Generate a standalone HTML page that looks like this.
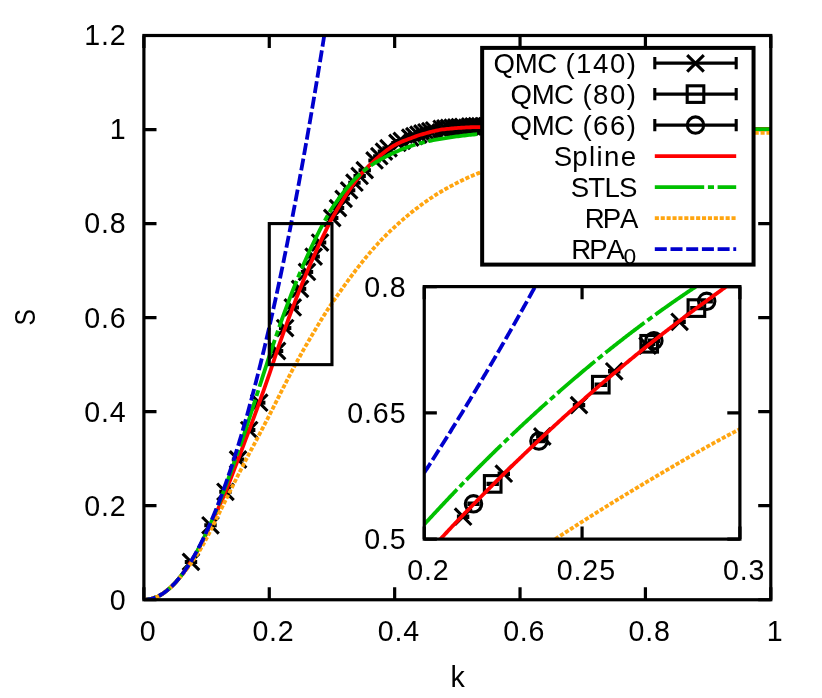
<!DOCTYPE html>
<html><head><meta charset="utf-8"><title>S(k)</title>
<style>
html,body{margin:0;padding:0;background:#fff;}
body{width:822px;height:698px;overflow:hidden;}
svg{display:block;will-change:transform;}
text{font-family:"Liberation Sans",sans-serif;fill:#000;}
.c{fill:none;stroke-width:3.8;stroke-linecap:butt;stroke-linejoin:round;}
.r{stroke:#ff0000;}
.g{stroke:#00c000;stroke-dasharray:49.4 3.7 6.1 3.6;}
.o{stroke:#ffa510;stroke-dasharray:4.1 1.8;}
.b{stroke:#0000cd;stroke-dasharray:12 3.7;}
.m{fill:none;stroke:#000;stroke-width:3.1;}
.ax{fill:none;stroke:#000;stroke-width:3.2;stroke-linecap:square;}
</style></head><body>
<svg width="822" height="698" viewBox="0 0 822 698">
<rect width="822" height="698" fill="#fff"/>
<defs>
<clipPath id="cm"><rect x="143.9" y="35.5" width="626.9" height="564.25"/></clipPath>
<clipPath id="ci"><rect x="424.25" y="286.6" width="315.65" height="252.5"/></clipPath>
</defs>

<g class="ax" style="stroke-linecap:butt">
<path d="M143.90,599.75v-12.6M143.90,35.5v12.6"/>
<path d="M269.28,599.75v-12.6M269.28,35.5v12.6"/>
<path d="M394.66,599.75v-12.6M394.66,35.5v12.6"/>
<path d="M520.04,599.75v-12.6M520.04,35.5v12.6"/>
<path d="M645.42,599.75v-12.6M645.42,35.5v12.6"/>
<path d="M770.80,599.75v-12.6M770.80,35.5v12.6"/>
<path d="M143.9,599.75h12.6M770.8,599.75h-12.6"/>
<path d="M143.9,505.71h12.6M770.8,505.71h-12.6"/>
<path d="M143.9,411.67h12.6M770.8,411.67h-12.6"/>
<path d="M143.9,317.62h12.6M770.8,317.62h-12.6"/>
<path d="M143.9,223.58h12.6M770.8,223.58h-12.6"/>
<path d="M143.9,129.54h12.6M770.8,129.54h-12.6"/>
<path d="M143.9,35.50h12.6M770.8,35.50h-12.6"/>
</g>
<g clip-path="url(#cm)">
<g class="m">
<path d="M184.78,561.90L197.18,561.90" stroke-width="4.0"/>
<path d="M182.68,553.60L199.28,570.20M182.68,570.20L199.28,553.60"/>
<path d="M204.28,525.32L216.68,525.32" stroke-width="4.0"/>
<path d="M202.18,517.02L218.78,533.62M202.18,533.62L218.78,517.02"/>
<path d="M219.25,491.82L231.65,491.82" stroke-width="4.0"/>
<path d="M217.15,483.52L233.75,500.12M217.15,500.12L233.75,483.52"/>
<path d="M231.86,459.49L244.26,459.49" stroke-width="4.0"/>
<path d="M229.76,451.19L246.36,467.79M229.76,467.79L246.36,451.19"/>
<path d="M242.97,430.04L255.37,430.04" stroke-width="4.0"/>
<path d="M240.87,421.74L257.47,438.34M240.87,438.34L257.47,421.74"/>
<path d="M253.02,402.68L265.42,402.68" stroke-width="4.0"/>
<path d="M250.92,394.38L267.52,410.98M250.92,410.98L267.52,394.38"/>
<path d="M270.86,351.02L283.26,351.02" stroke-width="4.0"/>
<path d="M268.76,342.72L285.36,359.32M268.76,359.32L285.36,342.72"/>
<path d="M278.94,328.07L291.34,328.07" stroke-width="4.0"/>
<path d="M276.84,319.77L293.44,336.37M276.84,336.37L293.44,319.77"/>
<path d="M286.58,307.46L298.98,307.46" stroke-width="4.0"/>
<path d="M284.48,299.16L301.08,315.76M284.48,315.76L301.08,299.16"/>
<path d="M293.85,288.84L306.25,288.84" stroke-width="4.0"/>
<path d="M291.75,280.54L308.35,297.14M291.75,297.14L308.35,280.54"/>
<path d="M300.79,271.95L313.19,271.95" stroke-width="4.0"/>
<path d="M298.69,263.65L315.29,280.25M298.69,280.25L315.29,263.65"/>
<path d="M307.45,256.58L319.85,256.58" stroke-width="4.0"/>
<path d="M305.35,248.28L321.95,264.88M305.35,264.88L321.95,248.28"/>
<path d="M313.86,242.55L326.26,242.55" stroke-width="4.0"/>
<path d="M311.76,234.25L328.36,250.85M311.76,250.85L328.36,234.25"/>
<path d="M326.02,218.02L338.42,218.02" stroke-width="4.0"/>
<path d="M323.92,209.72L340.52,226.32M323.92,226.32L340.52,209.72"/>
<path d="M331.82,208.10L344.22,208.10" stroke-width="4.0"/>
<path d="M329.72,199.80L346.32,216.40M329.72,216.40L346.32,199.80"/>
<path d="M337.44,198.85L349.84,198.85" stroke-width="4.0"/>
<path d="M335.34,190.55L351.94,207.15M335.34,207.15L351.94,190.55"/>
<path d="M342.92,190.36L355.32,190.36" stroke-width="4.0"/>
<path d="M340.82,182.06L357.42,198.66M340.82,198.66L357.42,182.06"/>
<path d="M348.25,182.71L360.65,182.71" stroke-width="4.0"/>
<path d="M346.15,174.41L362.75,191.01M346.15,191.01L362.75,174.41"/>
<path d="M353.45,175.95L365.85,175.95" stroke-width="4.0"/>
<path d="M351.35,167.65L367.95,184.25M351.35,184.25L367.95,167.65"/>
<path d="M358.53,170.13L370.93,170.13" stroke-width="4.0"/>
<path d="M356.43,161.83L373.03,178.43M356.43,178.43L373.03,161.83"/>
<path d="M368.34,160.43L380.74,160.43" stroke-width="4.0"/>
<path d="M366.24,152.13L382.84,168.73M366.24,168.73L382.84,152.13"/>
<path d="M373.10,156.21L385.50,156.21" stroke-width="4.0"/>
<path d="M371.00,147.91L387.60,164.51M371.00,164.51L387.60,147.91"/>
<path d="M377.76,151.62L390.16,151.62" stroke-width="4.0"/>
<path d="M375.66,143.32L392.26,159.92M375.66,159.92L392.26,143.32"/>
<path d="M382.34,148.27L394.74,148.27" stroke-width="4.0"/>
<path d="M380.24,139.97L396.84,156.57M380.24,156.57L396.84,139.97"/>
<path d="M391.23,142.88L403.63,142.88" stroke-width="4.0"/>
<path d="M389.13,134.58L405.73,151.18M389.13,151.18L405.73,134.58"/>
<path d="M395.57,140.88L407.97,140.88" stroke-width="4.0"/>
<path d="M393.47,132.58L410.07,149.18M393.47,149.18L410.07,132.58"/>
<path d="M404.03,137.64L416.43,137.64" stroke-width="4.0"/>
<path d="M401.93,129.34L418.53,145.94M401.93,145.94L418.53,129.34"/>
<path d="M408.16,136.08L420.56,136.08" stroke-width="4.0"/>
<path d="M406.06,127.78L422.66,144.38M406.06,144.38L422.66,127.78"/>
<path d="M412.22,134.63L424.62,134.63" stroke-width="4.0"/>
<path d="M410.12,126.33L426.72,142.93M410.12,142.93L426.72,126.33"/>
<path d="M416.23,133.42L428.63,133.42" stroke-width="4.0"/>
<path d="M414.13,125.12L430.73,141.72M414.13,141.72L430.73,125.12"/>
<path d="M420.18,132.31L432.58,132.31" stroke-width="4.0"/>
<path d="M418.08,124.01L434.68,140.61M418.08,140.61L434.68,124.01"/>
<path d="M424.08,131.26L436.48,131.26" stroke-width="4.0"/>
<path d="M421.98,122.96L438.58,139.56M421.98,139.56L438.58,122.96"/>
<path d="M427.92,130.31L440.32,130.31" stroke-width="4.0"/>
<path d="M425.82,122.01L442.42,138.61M425.82,138.61L442.42,122.01"/>
<path d="M435.46,128.80L447.86,128.80" stroke-width="4.0"/>
<path d="M433.36,120.50L449.96,137.10M433.36,137.10L449.96,120.50"/>
<path d="M439.16,128.32L451.56,128.32" stroke-width="4.0"/>
<path d="M437.06,120.02L453.66,136.62M437.06,136.62L453.66,120.02"/>
<path d="M442.81,127.97L455.21,127.97" stroke-width="4.0"/>
<path d="M440.71,119.67L457.31,136.27M440.71,136.27L457.31,119.67"/>
<path d="M446.43,127.64L458.83,127.64" stroke-width="4.0"/>
<path d="M444.33,119.34L460.93,135.94M444.33,135.94L460.93,119.34"/>
<path d="M449.99,127.34L462.39,127.34" stroke-width="4.0"/>
<path d="M447.89,119.04L464.49,135.64M447.89,135.64L464.49,119.04"/>
<path d="M453.52,127.06L465.92,127.06" stroke-width="4.0"/>
<path d="M451.42,118.76L468.02,135.36M451.42,135.36L468.02,118.76"/>
<path d="M457.01,126.82L469.41,126.82" stroke-width="4.0"/>
<path d="M454.91,118.52L471.51,135.12M454.91,135.12L471.51,118.52"/>
<path d="M463.88,126.46L476.28,126.46" stroke-width="4.0"/>
<path d="M461.78,118.16L478.38,134.76M461.78,134.76L478.38,118.16"/>
<path d="M467.26,126.34L479.66,126.34" stroke-width="4.0"/>
<path d="M465.16,118.04L481.76,134.64M465.16,134.64L481.76,118.04"/>
<path d="M470.61,126.27L483.01,126.27" stroke-width="4.0"/>
<path d="M468.51,117.97L485.11,134.57M468.51,134.57L485.11,117.97"/>
<path d="M473.92,126.25L486.32,126.25" stroke-width="4.0"/>
<path d="M471.82,117.95L488.42,134.55M471.82,134.55L488.42,117.95"/>
<path d="M477.20,126.25L489.60,126.25" stroke-width="4.0"/>
<path d="M475.10,117.95L491.70,134.55M475.10,134.55L491.70,117.95"/>
<path d="M480.45,126.27L492.85,126.27" stroke-width="4.0"/>
<path d="M478.35,117.97L494.95,134.57M478.35,134.57L494.95,117.97"/>
<path d="M483.67,126.29L496.07,126.29" stroke-width="4.0"/>
<path d="M481.57,117.99L498.17,134.59M481.57,134.59L498.17,117.99"/>
<path d="M490.02,126.34L502.42,126.34" stroke-width="4.0"/>
<path d="M487.92,118.04L504.52,134.64M487.92,134.64L504.52,118.04"/>
<path d="M493.15,126.38L505.55,126.38" stroke-width="4.0"/>
<path d="M491.05,118.08L507.65,134.68M491.05,134.68L507.65,118.08"/>
<path d="M496.25,126.41L508.65,126.41" stroke-width="4.0"/>
<path d="M494.15,118.11L510.75,134.71M494.15,134.71L510.75,118.11"/>
<path d="M499.33,126.46L511.73,126.46" stroke-width="4.0"/>
<path d="M497.23,118.16L513.83,134.76M497.23,134.76L513.83,118.16"/>
<path d="M505.41,126.54L517.81,126.54" stroke-width="4.0"/>
<path d="M503.31,118.24L519.91,134.84M503.31,134.84L519.91,118.24"/>
<path d="M508.41,126.59L520.81,126.59" stroke-width="4.0"/>
<path d="M506.31,118.29L522.91,134.89M506.31,134.89L522.91,118.29"/>
<path d="M514.34,126.68L526.74,126.68" stroke-width="4.0"/>
<path d="M512.24,118.38L528.84,134.98M512.24,134.98L528.84,118.38"/>
<path d="M517.27,126.73L529.67,126.73" stroke-width="4.0"/>
<path d="M515.17,118.43L531.77,135.03M515.17,135.03L531.77,118.43"/>
<path d="M520.18,126.77L532.58,126.77" stroke-width="4.0"/>
<path d="M518.08,118.47L534.68,135.07M518.08,135.07L534.68,118.47"/>
<path d="M523.07,126.81L535.47,126.81" stroke-width="4.0"/>
<path d="M520.97,118.51L537.57,135.11M520.97,135.11L537.57,118.51"/>
<path d="M525.93,126.85L538.33,126.85" stroke-width="4.0"/>
<path d="M523.83,118.55L540.43,135.15M523.83,135.15L540.43,118.55"/>
<path d="M528.78,126.90L541.18,126.90" stroke-width="4.0"/>
<path d="M526.68,118.60L543.28,135.20M526.68,135.20L543.28,118.60"/>
<path d="M531.60,126.94L544.00,126.94" stroke-width="4.0"/>
<path d="M529.50,118.64L546.10,135.24M529.50,135.24L546.10,118.64"/>
<path d="M537.19,127.04L549.59,127.04" stroke-width="4.0"/>
<path d="M535.09,118.74L551.69,135.34M535.09,135.34L551.69,118.74"/>
<path d="M539.95,127.09L552.35,127.09" stroke-width="4.0"/>
<path d="M537.85,118.79L554.45,135.39M537.85,135.39L554.45,118.79"/>
<path d="M542.70,127.15L555.10,127.15" stroke-width="4.0"/>
<path d="M540.60,118.85L557.20,135.45M540.60,135.45L557.20,118.85"/>
<path d="M545.43,127.21L557.83,127.21" stroke-width="4.0"/>
<path d="M543.33,118.91L559.93,135.51M543.33,135.51L559.93,118.91"/>
<path d="M548.14,127.27L560.54,127.27" stroke-width="4.0"/>
<path d="M546.04,118.97L562.64,135.57M546.04,135.57L562.64,118.97"/>
<path d="M550.83,127.33L563.23,127.33" stroke-width="4.0"/>
<path d="M548.73,119.03L565.33,135.63M548.73,135.63L565.33,119.03"/>
<path d="M553.50,127.39L565.90,127.39" stroke-width="4.0"/>
<path d="M551.40,119.09L568.00,135.69M551.40,135.69L568.00,119.09"/>
<path d="M558.80,127.51L571.20,127.51" stroke-width="4.0"/>
<path d="M556.70,119.21L573.30,135.81M556.70,135.81L573.30,119.21"/>
<path d="M561.42,127.57L573.82,127.57" stroke-width="4.0"/>
<path d="M559.32,119.27L575.92,135.87M559.32,135.87L575.92,119.27"/>
<path d="M564.03,127.64L576.43,127.64" stroke-width="4.0"/>
<path d="M561.93,119.34L578.53,135.94M561.93,135.94L578.53,119.34"/>
<path d="M566.62,127.69L579.02,127.69" stroke-width="4.0"/>
<path d="M564.52,119.39L581.12,135.99M564.52,135.99L581.12,119.39"/>
<path d="M569.20,127.75L581.60,127.75" stroke-width="4.0"/>
<path d="M567.10,119.45L583.70,136.05M567.10,136.05L583.70,119.45"/>
<path d="M571.76,127.81L584.16,127.81" stroke-width="4.0"/>
<path d="M569.66,119.51L586.26,136.11M569.66,136.11L586.26,119.51"/>
<path d="M574.30,127.86L586.70,127.86" stroke-width="4.0"/>
<path d="M572.20,119.56L588.80,136.16M572.20,136.16L588.80,119.56"/>
<path d="M579.35,127.96L591.75,127.96" stroke-width="4.0"/>
<path d="M577.25,119.66L593.85,136.26M577.25,136.26L593.85,119.66"/>
<path d="M581.85,128.01L594.25,128.01" stroke-width="4.0"/>
<path d="M579.75,119.71L596.35,136.31M579.75,136.31L596.35,119.71"/>
<path d="M584.34,128.05L596.74,128.05" stroke-width="4.0"/>
<path d="M582.24,119.75L598.84,136.35M582.24,136.35L598.84,119.75"/>
<path d="M586.82,128.09L599.22,128.09" stroke-width="4.0"/>
<path d="M584.72,119.79L601.32,136.39M584.72,136.39L601.32,119.79"/>
<path d="M591.72,128.16L604.12,128.16" stroke-width="4.0"/>
<path d="M589.62,119.86L606.22,136.46M589.62,136.46L606.22,119.86"/>
<path d="M594.16,128.19L606.56,128.19" stroke-width="4.0"/>
<path d="M592.06,119.89L608.66,136.49M592.06,136.49L608.66,119.89"/>
<path d="M598.99,128.24L611.39,128.24" stroke-width="4.0"/>
<path d="M596.89,119.94L613.49,136.54M596.89,136.54L613.49,119.94"/>
<path d="M601.39,128.25L613.79,128.25" stroke-width="4.0"/>
<path d="M599.29,119.95L615.89,136.55M599.29,136.55L615.89,119.95"/>
<path d="M603.77,128.26L616.17,128.26" stroke-width="4.0"/>
<path d="M601.67,119.96L618.27,136.56M601.67,136.56L618.27,119.96"/>
<path d="M606.14,128.27L618.54,128.27" stroke-width="4.0"/>
<path d="M604.04,119.97L620.64,136.57M604.04,136.57L620.64,119.97"/>
<path d="M608.50,128.27L620.90,128.27" stroke-width="4.0"/>
<path d="M606.40,119.97L623.00,136.57M606.40,136.57L623.00,119.97"/>
<path d="M610.85,128.27L623.25,128.27" stroke-width="4.0"/>
<path d="M608.75,119.97L625.35,136.57M608.75,136.57L625.35,119.97"/>
<path d="M613.19,128.27L625.59,128.27" stroke-width="4.0"/>
<path d="M611.09,119.97L627.69,136.57M611.09,136.57L627.69,119.97"/>
<path d="M617.83,128.27L630.23,128.27" stroke-width="4.0"/>
<path d="M615.73,119.97L632.33,136.57M615.73,136.57L632.33,119.97"/>
<path d="M620.13,128.27L632.53,128.27" stroke-width="4.0"/>
<path d="M618.03,119.97L634.63,136.57M618.03,136.57L634.63,119.97"/>
<path d="M622.42,128.27L634.82,128.27" stroke-width="4.0"/>
<path d="M620.32,119.97L636.92,136.57M620.32,136.57L636.92,119.97"/>
<path d="M624.70,128.26L637.10,128.26" stroke-width="4.0"/>
<path d="M622.60,119.96L639.20,136.56M622.60,136.56L639.20,119.96"/>
<path d="M626.97,128.26L639.37,128.26" stroke-width="4.0"/>
<path d="M624.87,119.96L641.47,136.56M624.87,136.56L641.47,119.96"/>
<path d="M629.23,128.26L641.63,128.26" stroke-width="4.0"/>
<path d="M627.13,119.96L643.73,136.56M627.13,136.56L643.73,119.96"/>
<path d="M631.48,128.26L643.88,128.26" stroke-width="4.0"/>
<path d="M629.38,119.96L645.98,136.56M629.38,136.56L645.98,119.96"/>
<path d="M638.17,128.25L650.57,128.25" stroke-width="4.0"/>
<path d="M636.07,119.95L652.67,136.55M636.07,136.55L652.67,119.95"/>
<path d="M640.38,128.25L652.78,128.25" stroke-width="4.0"/>
<path d="M638.28,119.95L654.88,136.55M638.28,136.55L654.88,119.95"/>
<path d="M642.58,128.24L654.98,128.24" stroke-width="4.0"/>
<path d="M640.48,119.94L657.08,136.54M640.48,136.54L657.08,119.94"/>
<path d="M644.77,128.24L657.17,128.24" stroke-width="4.0"/>
<path d="M642.67,119.94L659.27,136.54M642.67,136.54L659.27,119.94"/>
<path d="M646.95,128.24L659.35,128.24" stroke-width="4.0"/>
<path d="M644.85,119.94L661.45,136.54M644.85,136.54L661.45,119.94"/>
<path d="M649.12,128.23L661.52,128.23" stroke-width="4.0"/>
<path d="M647.02,119.93L663.62,136.53M647.02,136.53L663.62,119.93"/>
<path d="M653.44,128.23L665.84,128.23" stroke-width="4.0"/>
<path d="M651.34,119.93L667.94,136.53M651.34,136.53L667.94,119.93"/>
<path d="M655.58,128.22L667.98,128.22" stroke-width="4.0"/>
<path d="M653.48,119.92L670.08,136.52M653.48,136.52L670.08,119.92"/>
<path d="M657.72,128.22L670.12,128.22" stroke-width="4.0"/>
<path d="M655.62,119.92L672.22,136.52M655.62,136.52L672.22,119.92"/>
<path d="M659.84,128.22L672.24,128.22" stroke-width="4.0"/>
<path d="M657.74,119.92L674.34,136.52M657.74,136.52L674.34,119.92"/>
<path d="M664.07,128.21L676.47,128.21" stroke-width="4.0"/>
<path d="M661.97,119.91L678.57,136.51M661.97,136.51L678.57,119.91"/>
<path d="M666.17,128.21L678.57,128.21" stroke-width="4.0"/>
<path d="M664.07,119.91L680.67,136.51M664.07,136.51L680.67,119.91"/>
<path d="M670.35,128.20L682.75,128.20" stroke-width="4.0"/>
<path d="M668.25,119.90L684.85,136.50M668.25,136.50L684.85,119.90"/>
<path d="M672.43,128.20L684.83,128.20" stroke-width="4.0"/>
<path d="M670.33,119.90L686.93,136.50M670.33,136.50L686.93,119.90"/>
<path d="M674.50,128.20L686.90,128.20" stroke-width="4.0"/>
<path d="M672.40,119.90L689.00,136.50M672.40,136.50L689.00,119.90"/>
<path d="M676.56,128.19L688.96,128.19" stroke-width="4.0"/>
<path d="M674.46,119.89L691.06,136.49M674.46,136.49L691.06,119.89"/>
<path d="M678.61,128.19L691.01,128.19" stroke-width="4.0"/>
<path d="M676.51,119.89L693.11,136.49M676.51,136.49L693.11,119.89"/>
<path d="M680.66,128.19L693.06,128.19" stroke-width="4.0"/>
<path d="M678.56,119.89L695.16,136.49M678.56,136.49L695.16,119.89"/>
<path d="M682.69,128.19L695.09,128.19" stroke-width="4.0"/>
<path d="M680.59,119.89L697.19,136.49M680.59,136.49L697.19,119.89"/>
<path d="M686.74,128.18L699.14,128.18" stroke-width="4.0"/>
<path d="M684.64,119.88L701.24,136.48M684.64,136.48L701.24,119.88"/>
<path d="M688.76,128.18L701.16,128.18" stroke-width="4.0"/>
<path d="M686.66,119.88L703.26,136.48M686.66,136.48L703.26,119.88"/>
<path d="M690.77,128.18L703.17,128.18" stroke-width="4.0"/>
<path d="M688.67,119.88L705.27,136.48M688.67,136.48L705.27,119.88"/>
<path d="M692.77,128.18L705.17,128.18" stroke-width="4.0"/>
<path d="M690.67,119.88L707.27,136.48M690.67,136.48L707.27,119.88"/>
<path d="M694.76,128.18L707.16,128.18" stroke-width="4.0"/>
<path d="M692.66,119.88L709.26,136.48M692.66,136.48L709.26,119.88"/>
<path d="M696.75,128.18L709.15,128.18" stroke-width="4.0"/>
<path d="M694.65,119.88L711.25,136.48M694.65,136.48L711.25,119.88"/>
<path d="M698.73,128.18L711.13,128.18" stroke-width="4.0"/>
<path d="M696.63,119.88L713.23,136.48M696.63,136.48L713.23,119.88"/>
<path d="M702.66,128.18L715.06,128.18" stroke-width="4.0"/>
<path d="M700.56,119.88L717.16,136.48M700.56,136.48L717.16,119.88"/>
<path d="M704.62,128.18L717.02,128.18" stroke-width="4.0"/>
<path d="M702.52,119.88L719.12,136.48M702.52,136.48L719.12,119.88"/>
<path d="M706.57,128.18L718.97,128.18" stroke-width="4.0"/>
<path d="M704.47,119.88L721.07,136.48M704.47,136.48L721.07,119.88"/>
<path d="M708.52,128.18L720.92,128.18" stroke-width="4.0"/>
<path d="M706.42,119.88L723.02,136.48M706.42,136.48L723.02,119.88"/>
<path d="M710.46,128.18L722.86,128.18" stroke-width="4.0"/>
<path d="M708.36,119.88L724.96,136.48M708.36,136.48L724.96,119.88"/>
<path d="M712.39,128.18L724.79,128.18" stroke-width="4.0"/>
<path d="M710.29,119.88L726.89,136.48M710.29,136.48L726.89,119.88"/>
<path d="M714.31,128.18L726.71,128.18" stroke-width="4.0"/>
<path d="M712.21,119.88L728.81,136.48M712.21,136.48L728.81,119.88"/>
<path d="M718.14,128.18L730.54,128.18" stroke-width="4.0"/>
<path d="M716.04,119.88L732.64,136.48M716.04,136.48L732.64,119.88"/>
<path d="M720.05,128.18L732.45,128.18" stroke-width="4.0"/>
<path d="M717.95,119.88L734.55,136.48M717.95,136.48L734.55,119.88"/>
</g>
<path class="c r" d="M143.90,599.75 L145.47,599.69 L147.04,599.51 L148.61,599.24 L150.18,598.89 L151.76,598.48 L153.33,598.02 L154.90,597.52 L156.47,597.01 L158.04,596.41 L159.61,595.63 L161.18,594.72 L162.75,593.69 L164.33,592.55 L165.90,591.34 L167.47,590.08 L169.04,588.79 L170.61,587.42 L172.18,585.95 L173.75,584.37 L175.32,582.69 L176.89,580.91 L178.47,579.05 L180.04,577.11 L181.61,575.09 L183.18,573.01 L184.75,570.87 L186.32,568.67 L187.89,566.43 L189.46,564.14 L191.04,561.82 L192.61,559.40 L194.18,556.84 L195.75,554.15 L197.32,551.34 L198.89,548.44 L200.46,545.45 L202.03,542.40 L203.60,539.28 L205.18,536.12 L206.75,532.93 L208.32,529.73 L209.89,526.53 L211.46,523.29 L213.03,519.98 L214.60,516.61 L216.17,513.18 L217.75,509.69 L219.32,506.14 L220.89,502.55 L222.46,498.90 L224.03,495.20 L225.60,491.44 L227.17,487.60 L228.74,483.67 L230.31,479.68 L231.89,475.64 L233.46,471.55 L235.03,467.44 L236.60,463.32 L238.17,459.20 L239.74,455.07 L241.31,450.93 L242.88,446.78 L244.46,442.62 L246.03,438.45 L247.60,434.26 L249.17,430.05 L250.74,425.83 L252.31,421.59 L253.88,417.33 L255.45,413.05 L257.02,408.74 L258.60,404.42 L260.17,400.06 L261.74,395.68 L263.31,391.28 L264.88,386.84 L266.45,382.38 L268.02,377.88 L269.59,373.35 L271.17,368.69 L272.74,363.92 L274.31,359.16 L275.88,354.49 L277.45,349.90 L279.02,345.35 L280.59,340.85 L282.16,336.39 L283.73,331.98 L285.31,327.61 L286.88,323.29 L288.45,319.02 L290.02,314.78 L291.59,310.60 L293.16,306.46 L294.73,302.36 L296.30,298.31 L297.88,294.30 L299.45,290.34 L301.02,286.43 L302.59,282.55 L304.16,278.73 L305.73,274.95 L307.30,271.21 L308.87,267.52 L310.44,263.87 L312.02,260.27 L313.59,256.72 L315.16,253.21 L316.73,249.74 L318.30,246.32 L319.87,242.95 L321.44,239.62 L323.01,236.33 L324.59,233.09 L326.16,229.89 L327.73,226.67 L329.30,223.49 L330.87,220.45 L332.44,217.64 L334.01,214.92 L335.58,212.23 L337.15,209.55 L338.73,206.91 L340.30,204.30 L341.87,201.72 L343.44,199.18 L345.01,196.68 L346.58,194.22 L348.15,191.82 L349.72,189.46 L351.30,187.16 L352.87,184.91 L354.44,182.72 L356.01,180.60 L357.58,178.54 L359.15,176.56 L360.72,174.65 L362.29,172.81 L363.86,171.05 L365.44,169.38 L367.01,167.76 L368.58,166.17 L370.15,164.62 L371.72,163.09 L373.29,161.60 L374.86,160.14 L376.43,158.72 L378.01,157.33 L379.58,155.98 L381.15,154.67 L382.72,153.40 L384.29,152.17 L385.86,150.99 L387.43,149.84 L389.00,148.75 L390.57,147.69 L392.15,146.69 L393.72,145.74 L395.29,144.83 L396.86,143.98 L398.43,143.18 L400.00,142.45 L401.57,141.77 L403.14,141.12 L404.72,140.51 L406.29,139.92 L407.86,139.33 L409.43,138.75 L411.00,138.15 L412.57,137.55 L414.14,136.96 L415.71,136.37 L417.28,135.81 L418.86,135.28 L420.43,134.79 L422.00,134.34 L423.57,133.90 L425.14,133.46 L426.71,133.02 L428.28,132.59 L429.85,132.17 L431.43,131.77 L433.00,131.38 L434.57,131.00 L436.14,130.65 L437.71,130.32 L439.28,130.01 L440.85,129.73 L442.42,129.49 L443.99,129.27 L445.57,129.10 L447.14,128.94 L448.71,128.80 L450.28,128.65 L451.85,128.51 L453.42,128.37 L454.99,128.23 L456.56,128.11 L458.14,127.98 L459.71,127.86 L461.28,127.75 L462.85,127.65 L464.42,127.55 L465.99,127.46 L467.56,127.37 L469.13,127.30 L470.71,127.23 L472.28,127.18 L473.85,127.13 L475.42,127.09 L476.99,127.07 L478.56,127.05 L480.13,127.05 L481.70,127.05 L483.27,127.05 L484.85,127.06 L486.42,127.07 L487.99,127.07 L489.56,127.08 L491.13,127.10 L492.70,127.11 L494.27,127.12 L495.84,127.14 L497.42,127.15 L498.99,127.17 L500.56,127.19 L502.13,127.21 L503.70,127.23 L505.27,127.25 L506.84,127.27 L508.41,127.30 L509.98,127.32 L511.56,127.34 L513.13,127.37 L514.70,127.39 L516.27,127.42 L517.84,127.44 L519.41,127.46 L520.98,127.49 L522.55,127.51 L524.13,127.54 L525.70,127.56 L527.27,127.58 L528.84,127.61 L530.41,127.63 L531.98,127.65 L533.55,127.67 L535.12,127.70 L536.69,127.72 L538.27,127.75 L539.84,127.77 L541.41,127.80 L542.98,127.83 L544.55,127.86 L546.12,127.89 L547.69,127.93 L549.26,127.96 L550.84,127.99 L552.41,128.03 L553.98,128.06 L555.55,128.10 L557.12,128.13 L558.69,128.17 L560.26,128.20 L561.83,128.24 L563.40,128.28 L564.98,128.31 L566.55,128.35 L568.12,128.39 L569.69,128.42 L571.26,128.46 L572.83,128.49 L574.40,128.53 L575.97,128.56 L577.55,128.60 L579.12,128.63 L580.69,128.67 L582.26,128.70 L583.83,128.73 L585.40,128.76 L586.97,128.79 L588.54,128.82 L590.11,128.85 L591.69,128.87 L593.26,128.90 L594.83,128.92 L596.40,128.94 L597.97,128.96 L599.54,128.98 L601.11,129.00 L602.68,129.02 L604.26,129.03 L605.83,129.04 L607.40,129.05 L608.97,129.06 L610.54,129.07 L612.11,129.07 L613.68,129.07 L615.25,129.07 L616.82,129.07 L618.40,129.07 L619.97,129.07 L621.54,129.07 L623.11,129.07 L624.68,129.07 L626.25,129.07 L627.82,129.07 L629.39,129.06 L630.97,129.06 L632.54,129.06 L634.11,129.06 L635.68,129.06 L637.25,129.06 L638.82,129.06 L640.39,129.05 L641.96,129.05 L643.53,129.05 L645.11,129.05 L646.68,129.05 L648.25,129.04 L649.82,129.04 L651.39,129.04 L652.96,129.04 L654.53,129.03 L656.10,129.03 L657.68,129.03 L659.25,129.03 L660.82,129.02 L662.39,129.02 L663.96,129.02 L665.53,129.02 L667.10,129.02 L668.67,129.01 L670.24,129.01 L671.82,129.01 L673.39,129.01 L674.96,129.00 L676.53,129.00 L678.10,129.00 L679.67,129.00 L681.24,129.00 L682.81,128.99 L684.39,128.99 L685.96,128.99 L687.53,128.99 L689.10,128.99 L690.67,128.99 L692.24,128.98 L693.81,128.98 L695.38,128.98 L696.95,128.98 L698.53,128.98 L700.10,128.98 L701.67,128.98 L703.24,128.98 L704.81,128.98 L706.38,128.98 L707.95,128.98 L709.52,128.98 L711.10,128.98 L712.67,128.98 L714.24,128.98 L715.81,128.98 L717.38,128.98 L718.95,128.98 L720.52,128.98 L722.09,128.98 L723.66,128.98 L725.24,128.98 L726.81,128.98 L728.38,128.98 L729.95,128.98 L731.52,128.98 L733.09,128.98 L734.66,128.98 L736.23,128.98 L737.81,128.98 L739.38,128.98 L740.95,128.98 L742.52,128.98 L744.09,128.98 L745.66,128.98 L747.23,128.98 L748.80,128.98 L750.37,128.98 L751.95,128.98 L753.52,128.98 L755.09,128.98 L756.66,128.98 L758.23,128.98 L759.80,128.98 L761.37,128.98 L762.94,128.98 L764.52,128.98 L766.09,128.98 L767.66,128.98 L769.23,128.98 L770.80,128.98"/>
<path class="c g" d="M143.90,599.75 L145.47,599.69 L147.04,599.51 L148.61,599.24 L150.18,598.89 L151.76,598.48 L153.33,598.02 L154.90,597.52 L156.47,597.01 L158.04,596.41 L159.61,595.64 L161.18,594.72 L162.75,593.69 L164.33,592.56 L165.90,591.35 L167.47,590.09 L169.04,588.79 L170.61,587.42 L172.18,585.93 L173.75,584.34 L175.32,582.65 L176.89,580.86 L178.47,578.98 L180.04,577.02 L181.61,574.98 L183.18,572.87 L184.75,570.70 L186.32,568.46 L187.89,566.18 L189.46,563.85 L191.04,561.49 L192.61,559.03 L194.18,556.43 L195.75,553.71 L197.32,550.87 L198.89,547.92 L200.46,544.88 L202.03,541.75 L203.60,538.54 L205.18,535.26 L206.75,531.92 L208.32,528.53 L209.89,525.09 L211.46,521.59 L213.03,517.97 L214.60,514.26 L216.17,510.47 L217.75,506.58 L219.32,502.62 L220.89,498.59 L222.46,494.49 L224.03,490.34 L225.60,486.13 L227.17,481.88 L228.74,477.58 L230.31,473.25 L231.89,468.90 L233.46,464.52 L235.03,460.13 L236.60,455.73 L238.17,451.32 L239.74,446.85 L241.31,442.31 L242.88,437.70 L244.46,433.03 L246.03,428.31 L247.60,423.54 L249.17,418.73 L250.74,413.89 L252.31,409.02 L253.88,404.13 L255.45,399.22 L257.02,394.31 L258.60,389.39 L260.17,384.48 L261.74,379.58 L263.31,374.70 L264.88,369.84 L266.45,365.00 L268.02,360.21 L269.59,355.46 L271.17,350.71 L272.74,345.97 L274.31,341.28 L275.88,336.65 L277.45,332.10 L279.02,327.59 L280.59,323.14 L282.16,318.75 L283.73,314.42 L285.31,310.13 L286.88,305.91 L288.45,301.74 L290.02,297.62 L291.59,293.56 L293.16,289.56 L294.73,285.61 L296.30,281.72 L297.88,277.88 L299.45,274.09 L301.02,270.37 L302.59,266.70 L304.16,263.08 L305.73,259.52 L307.30,256.01 L308.87,252.56 L310.44,249.17 L312.02,245.83 L313.59,242.55 L315.16,239.32 L316.73,236.14 L318.30,233.02 L319.87,229.96 L321.44,226.96 L323.01,224.00 L324.59,221.11 L326.16,218.26 L327.73,215.40 L329.30,212.58 L330.87,209.93 L332.44,207.55 L334.01,205.28 L335.58,203.04 L337.15,200.84 L338.73,198.67 L340.30,196.54 L341.87,194.45 L343.44,192.40 L345.01,190.40 L346.58,188.45 L348.15,186.55 L349.72,184.69 L351.30,182.90 L352.87,181.16 L354.44,179.48 L356.01,177.86 L357.58,176.30 L359.15,174.81 L360.72,173.39 L362.29,172.03 L363.86,170.76 L365.44,169.54 L367.01,168.36 L368.58,167.22 L370.15,166.11 L371.72,165.03 L373.29,163.98 L374.86,162.97 L376.43,161.98 L378.01,161.03 L379.58,160.10 L381.15,159.20 L382.72,158.32 L384.29,157.47 L385.86,156.64 L387.43,155.84 L389.00,155.05 L390.57,154.29 L392.15,153.55 L393.72,152.83 L395.29,152.12 L396.86,151.44 L398.43,150.77 L400.00,150.11 L401.57,149.47 L403.14,148.84 L404.72,148.23 L406.29,147.64 L407.86,147.06 L409.43,146.51 L411.00,145.96 L412.57,145.44 L414.14,144.94 L415.71,144.45 L417.28,143.99 L418.86,143.55 L420.43,143.12 L422.00,142.72 L423.57,142.33 L425.14,141.96 L426.71,141.59 L428.28,141.24 L429.85,140.90 L431.43,140.56 L433.00,140.24 L434.57,139.93 L436.14,139.63 L437.71,139.34 L439.28,139.07 L440.85,138.80 L442.42,138.54 L443.99,138.28 L445.57,138.04 L447.14,137.81 L448.71,137.58 L450.28,137.35 L451.85,137.12 L453.42,136.90 L454.99,136.69 L456.56,136.47 L458.14,136.27 L459.71,136.06 L461.28,135.87 L462.85,135.67 L464.42,135.49 L465.99,135.31 L467.56,135.13 L469.13,134.96 L470.71,134.80 L472.28,134.65 L473.85,134.50 L475.42,134.36 L476.99,134.23 L478.56,134.10 L480.13,133.98 L481.70,133.87 L483.27,133.76 L484.85,133.65 L486.42,133.54 L487.99,133.43 L489.56,133.32 L491.13,133.21 L492.70,133.11 L494.27,133.00 L495.84,132.90 L497.42,132.80 L498.99,132.70 L500.56,132.60 L502.13,132.50 L503.70,132.41 L505.27,132.32 L506.84,132.22 L508.41,132.13 L509.98,132.05 L511.56,131.96 L513.13,131.87 L514.70,131.79 L516.27,131.71 L517.84,131.63 L519.41,131.56 L520.98,131.48 L522.55,131.41 L524.13,131.34 L525.70,131.27 L527.27,131.20 L528.84,131.14 L530.41,131.08 L531.98,131.02 L533.55,130.96 L535.12,130.90 L536.69,130.85 L538.27,130.80 L539.84,130.75 L541.41,130.71 L542.98,130.67 L544.55,130.63 L546.12,130.59 L547.69,130.55 L549.26,130.52 L550.84,130.49 L552.41,130.46 L553.98,130.44 L555.55,130.41 L557.12,130.39 L558.69,130.36 L560.26,130.34 L561.83,130.32 L563.40,130.29 L564.98,130.27 L566.55,130.25 L568.12,130.23 L569.69,130.20 L571.26,130.18 L572.83,130.16 L574.40,130.14 L575.97,130.12 L577.55,130.11 L579.12,130.09 L580.69,130.07 L582.26,130.05 L583.83,130.03 L585.40,130.02 L586.97,130.00 L588.54,129.98 L590.11,129.97 L591.69,129.95 L593.26,129.94 L594.83,129.92 L596.40,129.91 L597.97,129.89 L599.54,129.88 L601.11,129.87 L602.68,129.85 L604.26,129.84 L605.83,129.83 L607.40,129.81 L608.97,129.80 L610.54,129.79 L612.11,129.78 L613.68,129.76 L615.25,129.75 L616.82,129.74 L618.40,129.73 L619.97,129.72 L621.54,129.70 L623.11,129.69 L624.68,129.68 L626.25,129.67 L627.82,129.66 L629.39,129.65 L630.97,129.64 L632.54,129.63 L634.11,129.62 L635.68,129.61 L637.25,129.60 L638.82,129.59 L640.39,129.58 L641.96,129.56 L643.53,129.55 L645.11,129.54 L646.68,129.53 L648.25,129.52 L649.82,129.51 L651.39,129.50 L652.96,129.49 L654.53,129.48 L656.10,129.47 L657.68,129.46 L659.25,129.44 L660.82,129.43 L662.39,129.42 L663.96,129.41 L665.53,129.40 L667.10,129.39 L668.67,129.38 L670.24,129.37 L671.82,129.36 L673.39,129.35 L674.96,129.34 L676.53,129.33 L678.10,129.32 L679.67,129.31 L681.24,129.30 L682.81,129.29 L684.39,129.28 L685.96,129.27 L687.53,129.27 L689.10,129.26 L690.67,129.25 L692.24,129.24 L693.81,129.24 L695.38,129.23 L696.95,129.23 L698.53,129.22 L700.10,129.22 L701.67,129.22 L703.24,129.22 L704.81,129.21 L706.38,129.21 L707.95,129.21 L709.52,129.21 L711.10,129.21 L712.67,129.21 L714.24,129.21 L715.81,129.21 L717.38,129.21 L718.95,129.21 L720.52,129.21 L722.09,129.21 L723.66,129.21 L725.24,129.21 L726.81,129.21 L728.38,129.21 L729.95,129.21 L731.52,129.21 L733.09,129.21 L734.66,129.21 L736.23,129.21 L737.81,129.21 L739.38,129.21 L740.95,129.21 L742.52,129.21 L744.09,129.21 L745.66,129.21 L747.23,129.21 L748.80,129.21 L750.37,129.21 L751.95,129.21 L753.52,129.21 L755.09,129.21 L756.66,129.21 L758.23,129.21 L759.80,129.21 L761.37,129.21 L762.94,129.21 L764.52,129.21 L766.09,129.21 L767.66,129.21 L769.23,129.21 L770.80,129.21"/>
<path class="c o" d="M143.90,599.75 L145.47,599.69 L147.04,599.51 L148.61,599.24 L150.18,598.89 L151.76,598.48 L153.33,598.02 L154.90,597.52 L156.47,597.01 L158.04,596.40 L159.61,595.62 L161.18,594.69 L162.75,593.64 L164.33,592.50 L165.90,591.29 L167.47,590.05 L169.04,588.79 L170.61,587.46 L172.18,586.00 L173.75,584.43 L175.32,582.78 L176.89,581.08 L178.47,579.34 L180.04,577.54 L181.61,575.66 L183.18,573.71 L184.75,571.69 L186.32,569.63 L187.89,567.53 L189.46,565.41 L191.04,563.26 L192.61,561.07 L194.18,558.82 L195.75,556.52 L197.32,554.14 L198.89,551.69 L200.46,549.14 L202.03,546.49 L203.60,543.73 L205.18,540.88 L206.75,537.95 L208.32,534.94 L209.89,531.88 L211.46,528.76 L213.03,525.61 L214.60,522.42 L216.17,519.22 L217.75,516.01 L219.32,512.81 L220.89,509.62 L222.46,506.46 L224.03,503.33 L225.60,500.22 L227.17,497.08 L228.74,493.92 L230.31,490.75 L231.89,487.58 L233.46,484.41 L235.03,481.25 L236.60,478.10 L238.17,474.98 L239.74,471.89 L241.31,468.83 L242.88,465.78 L244.46,462.75 L246.03,459.73 L247.60,456.72 L249.17,453.73 L250.74,450.74 L252.31,447.76 L253.88,444.78 L255.45,441.81 L257.02,438.83 L258.60,435.85 L260.17,432.87 L261.74,429.88 L263.31,426.88 L264.88,423.87 L266.45,420.85 L268.02,417.81 L269.59,414.75 L271.17,411.67 L272.74,408.58 L274.31,405.47 L275.88,402.36 L277.45,399.24 L279.02,396.12 L280.59,393.00 L282.16,389.89 L283.73,386.79 L285.31,383.71 L286.88,380.64 L288.45,377.59 L290.02,374.57 L291.59,371.58 L293.16,368.61 L294.73,365.69 L296.30,362.79 L297.88,359.93 L299.45,357.08 L301.02,354.26 L302.59,351.46 L304.16,348.68 L305.73,345.93 L307.30,343.19 L308.87,340.49 L310.44,337.80 L312.02,335.14 L313.59,332.50 L315.16,329.87 L316.73,327.25 L318.30,324.64 L319.87,322.05 L321.44,319.48 L323.01,316.94 L324.59,314.42 L326.16,311.95 L327.73,309.51 L329.30,307.13 L330.87,304.79 L332.44,302.51 L334.01,300.25 L335.58,298.00 L337.15,295.76 L338.73,293.53 L340.30,291.32 L341.87,289.11 L343.44,286.92 L345.01,284.74 L346.58,282.58 L348.15,280.43 L349.72,278.30 L351.30,276.18 L352.87,274.08 L354.44,272.00 L356.01,269.94 L357.58,267.90 L359.15,265.88 L360.72,263.88 L362.29,261.91 L363.86,259.95 L365.44,258.02 L367.01,256.11 L368.58,254.23 L370.15,252.37 L371.72,250.54 L373.29,248.74 L374.86,246.96 L376.43,245.22 L378.01,243.50 L379.58,241.81 L381.15,240.15 L382.72,238.53 L384.29,236.93 L385.86,235.35 L387.43,233.79 L389.00,232.25 L390.57,230.74 L392.15,229.25 L393.72,227.77 L395.29,226.32 L396.86,224.88 L398.43,223.47 L400.00,222.07 L401.57,220.69 L403.14,219.34 L404.72,217.99 L406.29,216.67 L407.86,215.37 L409.43,214.08 L411.00,212.81 L412.57,211.55 L414.14,210.31 L415.71,209.09 L417.28,207.88 L418.86,206.69 L420.43,205.52 L422.00,204.35 L423.57,203.21 L425.14,202.08 L426.71,200.97 L428.28,199.87 L429.85,198.79 L431.43,197.73 L433.00,196.69 L434.57,195.66 L436.14,194.66 L437.71,193.67 L439.28,192.70 L440.85,191.75 L442.42,190.82 L443.99,189.91 L445.57,189.02 L447.14,188.15 L448.71,187.28 L450.28,186.43 L451.85,185.59 L453.42,184.75 L454.99,183.93 L456.56,183.11 L458.14,182.31 L459.71,181.52 L461.28,180.75 L462.85,179.98 L464.42,179.23 L465.99,178.49 L467.56,177.77 L469.13,177.06 L470.71,176.37 L472.28,175.69 L473.85,175.02 L475.42,174.37 L476.99,173.74 L478.56,173.12 L480.13,172.52 L481.70,171.92 L483.27,171.32 L484.85,170.73 L486.42,170.14 L487.99,169.55 L489.56,168.97 L491.13,168.39 L492.70,167.82 L494.27,167.25 L495.84,166.69 L497.42,166.13 L498.99,165.58 L500.56,165.03 L502.13,164.49 L503.70,163.95 L505.27,163.42 L506.84,162.89 L508.41,162.37 L509.98,161.86 L511.56,161.35 L513.13,160.84 L514.70,160.35 L516.27,159.86 L517.84,159.37 L519.41,158.89 L520.98,158.42 L522.55,157.95 L524.13,157.49 L525.70,157.04 L527.27,156.60 L528.84,156.16 L530.41,155.73 L531.98,155.30 L533.55,154.88 L535.12,154.47 L536.69,154.07 L538.27,153.68 L539.84,153.29 L541.41,152.91 L542.98,152.54 L544.55,152.18 L546.12,151.83 L547.69,151.48 L549.26,151.14 L550.84,150.81 L552.41,150.49 L553.98,150.17 L555.55,149.85 L557.12,149.53 L558.69,149.22 L560.26,148.90 L561.83,148.58 L563.40,148.27 L564.98,147.96 L566.55,147.65 L568.12,147.34 L569.69,147.03 L571.26,146.73 L572.83,146.43 L574.40,146.13 L575.97,145.83 L577.55,145.53 L579.12,145.24 L580.69,144.95 L582.26,144.66 L583.83,144.38 L585.40,144.09 L586.97,143.82 L588.54,143.54 L590.11,143.27 L591.69,143.00 L593.26,142.73 L594.83,142.47 L596.40,142.21 L597.97,141.96 L599.54,141.71 L601.11,141.46 L602.68,141.22 L604.26,140.98 L605.83,140.75 L607.40,140.52 L608.97,140.29 L610.54,140.07 L612.11,139.85 L613.68,139.64 L615.25,139.44 L616.82,139.24 L618.40,139.04 L619.97,138.85 L621.54,138.67 L623.11,138.49 L624.68,138.31 L626.25,138.15 L627.82,137.98 L629.39,137.83 L630.97,137.68 L632.54,137.53 L634.11,137.39 L635.68,137.26 L637.25,137.14 L638.82,137.02 L640.39,136.91 L641.96,136.80 L643.53,136.70 L645.11,136.61 L646.68,136.53 L648.25,136.44 L649.82,136.36 L651.39,136.27 L652.96,136.19 L654.53,136.11 L656.10,136.03 L657.68,135.95 L659.25,135.87 L660.82,135.80 L662.39,135.72 L663.96,135.65 L665.53,135.57 L667.10,135.50 L668.67,135.43 L670.24,135.36 L671.82,135.29 L673.39,135.22 L674.96,135.15 L676.53,135.09 L678.10,135.02 L679.67,134.96 L681.24,134.89 L682.81,134.83 L684.39,134.77 L685.96,134.71 L687.53,134.65 L689.10,134.59 L690.67,134.53 L692.24,134.47 L693.81,134.42 L695.38,134.36 L696.95,134.31 L698.53,134.26 L700.10,134.21 L701.67,134.15 L703.24,134.10 L704.81,134.06 L706.38,134.01 L707.95,133.96 L709.52,133.91 L711.10,133.87 L712.67,133.82 L714.24,133.78 L715.81,133.74 L717.38,133.70 L718.95,133.66 L720.52,133.62 L722.09,133.58 L723.66,133.54 L725.24,133.50 L726.81,133.47 L728.38,133.43 L729.95,133.40 L731.52,133.37 L733.09,133.33 L734.66,133.30 L736.23,133.27 L737.81,133.24 L739.38,133.21 L740.95,133.19 L742.52,133.16 L744.09,133.13 L745.66,133.11 L747.23,133.08 L748.80,133.06 L750.37,133.04 L751.95,133.02 L753.52,132.99 L755.09,132.97 L756.66,132.96 L758.23,132.94 L759.80,132.92 L761.37,132.91 L762.94,132.89 L764.52,132.88 L766.09,132.87 L767.66,132.85 L769.23,132.84 L770.80,132.83"/>
<path class="c b" d="M143.90,599.75 L144.37,599.75 L144.84,599.73 L145.31,599.72 L145.79,599.69 L146.26,599.65 L146.73,599.61 L147.20,599.56 L147.67,599.50 L148.14,599.44 L148.61,599.36 L149.08,599.28 L149.56,599.19 L150.03,599.10 L150.50,598.99 L150.97,598.88 L151.44,598.76 L151.91,598.64 L152.38,598.50 L152.86,598.36 L153.33,598.21 L153.80,598.05 L154.27,597.88 L154.74,597.71 L155.21,597.53 L155.68,597.34 L156.16,597.14 L156.63,596.94 L157.10,596.73 L157.57,596.51 L158.04,596.28 L158.51,596.05 L158.98,595.80 L159.45,595.55 L159.93,595.29 L160.40,595.03 L160.87,594.75 L161.34,594.47 L161.81,594.18 L162.28,593.89 L162.75,593.58 L163.23,593.27 L163.70,592.95 L164.17,592.62 L164.64,592.29 L165.11,591.94 L165.58,591.59 L166.05,591.24 L166.52,590.87 L167.00,590.50 L167.47,590.11 L167.94,589.72 L168.41,589.33 L168.88,588.92 L169.35,588.51 L169.82,588.09 L170.30,587.66 L170.77,587.23 L171.24,586.78 L171.71,586.33 L172.18,585.87 L172.65,585.41 L173.12,584.93 L173.60,584.45 L174.07,583.96 L174.54,583.47 L175.01,582.96 L175.48,582.45 L175.95,581.93 L176.42,581.40 L176.89,580.86 L177.37,580.32 L177.84,579.77 L178.31,579.21 L178.78,578.64 L179.25,578.07 L179.72,577.49 L180.19,576.90 L180.67,576.30 L181.14,575.69 L181.61,575.08 L182.08,574.46 L182.55,573.83 L183.02,573.20 L183.49,572.55 L183.97,571.90 L184.44,571.24 L184.91,570.58 L185.38,569.90 L185.85,569.22 L186.32,568.53 L186.79,567.83 L187.26,567.13 L187.74,566.41 L188.21,565.69 L188.68,564.96 L189.15,564.23 L189.62,563.48 L190.09,562.73 L190.56,561.97 L191.04,561.21 L191.51,560.43 L191.98,559.65 L192.45,558.86 L192.92,558.06 L193.39,557.26 L193.86,556.44 L194.33,555.62 L194.81,554.79 L195.28,553.96 L195.75,553.11 L196.22,552.26 L196.69,551.40 L197.16,550.53 L197.63,549.66 L198.11,548.78 L198.58,547.89 L199.05,546.99 L199.52,546.08 L199.99,545.17 L200.46,544.25 L200.93,543.32 L201.41,542.38 L201.88,541.44 L202.35,540.48 L202.82,539.53 L203.29,538.56 L203.76,537.58 L204.23,536.60 L204.70,535.61 L205.18,534.61 L205.65,533.60 L206.12,532.59 L206.59,531.57 L207.06,530.54 L207.53,529.50 L208.00,528.46 L208.48,527.41 L208.95,526.35 L209.42,525.28 L209.89,524.20 L210.36,523.12 L210.83,522.03 L211.30,520.93 L211.77,519.83 L212.25,518.71 L212.72,517.59 L213.19,516.46 L213.66,515.32 L214.13,514.18 L214.60,513.03 L215.07,511.87 L215.55,510.70 L216.02,509.52 L216.49,508.34 L216.96,507.15 L217.43,505.95 L217.90,504.74 L218.37,503.53 L218.85,502.31 L219.32,501.08 L219.79,499.84 L220.26,498.60 L220.73,497.34 L221.20,496.08 L221.67,494.81 L222.14,493.54 L222.62,492.26 L223.09,490.96 L223.56,489.66 L224.03,488.36 L224.50,487.04 L224.97,485.72 L225.44,484.39 L225.92,483.05 L226.39,481.71 L226.86,480.36 L227.33,479.00 L227.80,477.63 L228.27,476.25 L228.74,474.87 L229.21,473.48 L229.69,472.08 L230.16,470.67 L230.63,469.26 L231.10,467.83 L231.57,466.40 L232.04,464.97 L232.51,463.52 L232.99,462.07 L233.46,460.61 L233.93,459.14 L234.40,457.66 L234.87,456.18 L235.34,454.69 L235.81,453.19 L236.29,451.68 L236.76,450.17 L237.23,448.64 L237.70,447.11 L238.17,445.57 L238.64,444.03 L239.11,442.48 L239.58,440.91 L240.06,439.35 L240.53,437.77 L241.00,436.19 L241.47,434.59 L241.94,432.99 L242.41,431.39 L242.88,429.77 L243.36,428.15 L243.83,426.52 L244.30,424.88 L244.77,423.23 L245.24,421.58 L245.71,419.92 L246.18,418.25 L246.66,416.57 L247.13,414.89 L247.60,413.20 L248.07,411.50 L248.54,409.79 L249.01,408.08 L249.48,406.35 L249.95,404.62 L250.43,402.88 L250.90,401.14 L251.37,399.38 L251.84,397.62 L252.31,395.85 L252.78,394.08 L253.25,392.29 L253.73,390.50 L254.20,388.70 L254.67,386.89 L255.14,385.08 L255.61,383.25 L256.08,381.42 L256.55,379.58 L257.02,377.74 L257.50,375.88 L257.97,374.02 L258.44,372.15 L258.91,370.28 L259.38,368.39 L259.85,366.50 L260.32,364.60 L260.80,362.69 L261.27,360.77 L261.74,358.85 L262.21,356.92 L262.68,354.98 L263.15,353.03 L263.62,351.08 L264.10,349.12 L264.57,347.15 L265.04,345.17 L265.51,343.19 L265.98,341.19 L266.45,339.19 L266.92,337.19 L267.39,335.17 L267.87,333.15 L268.34,331.11 L268.81,329.08 L269.28,327.03 L269.75,324.97 L270.22,322.91 L270.69,320.84 L271.17,318.77 L271.64,316.68 L272.11,314.59 L272.58,312.49 L273.05,310.38 L273.52,308.26 L273.99,306.14 L274.46,304.01 L274.94,301.87 L275.41,299.72 L275.88,297.57 L276.35,295.40 L276.82,293.23 L277.29,291.06 L277.76,288.87 L278.24,286.68 L278.71,284.48 L279.18,282.27 L279.65,280.05 L280.12,277.83 L280.59,275.60 L281.06,273.36 L281.54,271.11 L282.01,268.85 L282.48,266.59 L282.95,264.32 L283.42,262.04 L283.89,259.76 L284.36,257.47 L284.83,255.16 L285.31,252.86 L285.78,250.54 L286.25,248.21 L286.72,245.88 L287.19,243.54 L287.66,241.20 L288.13,238.84 L288.61,236.48 L289.08,234.11 L289.55,231.73 L290.02,229.34 L290.49,226.95 L290.96,224.55 L291.43,222.14 L291.90,219.72 L292.38,217.30 L292.85,214.87 L293.32,212.43 L293.79,209.98 L294.26,207.52 L294.73,205.06 L295.20,202.59 L295.68,200.11 L296.15,197.63 L296.62,195.13 L297.09,192.63 L297.56,190.12 L298.03,187.60 L298.50,185.08 L298.98,182.55 L299.45,180.01 L299.92,177.46 L300.39,174.90 L300.86,172.34 L301.33,169.77 L301.80,167.19 L302.27,164.61 L302.75,162.01 L303.22,159.41 L303.69,156.80 L304.16,154.18 L304.63,151.56 L305.10,148.93 L305.57,146.29 L306.05,143.64 L306.52,140.98 L306.99,138.32 L307.46,135.65 L307.93,132.97 L308.40,130.28 L308.87,127.59 L309.35,124.89 L309.82,122.18 L310.29,119.46 L310.76,116.73 L311.23,114.00 L311.70,111.26 L312.17,108.51 L312.64,105.76 L313.12,102.99 L313.59,100.22 L314.06,97.44 L314.53,94.66 L315.00,91.86 L315.47,89.06 L315.94,86.25 L316.42,83.43 L316.89,80.61 L317.36,77.77 L317.83,74.93 L318.30,72.08 L318.77,69.23 L319.24,66.36 L319.71,63.49 L320.19,60.61 L320.66,57.73 L321.13,54.83 L321.60,51.93 L322.07,49.02 L322.54,46.10 L323.01,43.18 L323.49,40.24 L323.96,37.30 L324.43,34.35 L324.90,31.40 L325.37,28.43 L325.84,25.46 L326.31,22.48 L326.79,19.50 L327.26,16.50 L327.73,13.50 L328.20,10.49 L328.67,7.47 L329.14,4.44 L329.61,1.41 L330.08,-1.63 L330.56,-4.68 L331.03,-7.74 L331.50,-10.80 L331.97,-13.87"/>
</g>
<rect class="ax" x="143.9" y="35.5" width="626.9" height="564.25"/>
<rect x="269.28" y="223.58" width="62.69" height="141.06" fill="none" stroke="#000" stroke-width="3.1"/>
<text x="139.75" y="640.70" font-size="28.60">0</text>
<text x="252.40 269.11 277.85" y="640.70" font-size="28.60">0.2</text>
<text x="377.78 394.49 403.23" y="640.70" font-size="28.60">0.4</text>
<text x="503.16 519.87 528.61" y="640.70" font-size="28.60">0.6</text>
<text x="628.54 645.25 653.99" y="640.70" font-size="28.60">0.8</text>
<text x="766.65" y="640.70" font-size="28.60">1</text>
<text x="109.66" y="609.65" font-size="28.60">0</text>
<text x="84.22 100.92 109.66" y="515.61" font-size="28.60">0.2</text>
<text x="84.22 100.92 109.66" y="421.57" font-size="28.60">0.4</text>
<text x="84.22 100.92 109.66" y="327.52" font-size="28.60">0.6</text>
<text x="84.22 100.92 109.66" y="233.48" font-size="28.60">0.8</text>
<text x="109.66" y="139.44" font-size="28.60">1</text>
<text x="84.22 100.92 109.66" y="45.40" font-size="28.60">1.2</text>
<text x="450.45" y="687.00" font-size="28.60">k</text>
<g transform="translate(35.0,317.4) rotate(-90)"><text x="-8.20" y="0" font-size="28.6" textLength="16.41" lengthAdjust="spacingAndGlyphs">S</text></g>
<rect x="482.15" y="47.9" width="271.4" height="216.70000000000002" fill="#fff" stroke="#000" stroke-width="4.0"/>
<text x="493.54 514.78 537.13 556.81 565.49 576.10 593.07 610.03 626.80" y="73.00" font-size="27.60">QMC (140)</text>
<text x="510.51 531.75 554.10 573.78 582.46 593.07 610.03 626.80" y="104.00" font-size="27.60">QMC (80)</text>
<text x="510.51 531.75 554.10 573.78 582.46 593.07 610.03 626.80" y="135.00" font-size="27.60">QMC (66)</text>
<text x="553.87 572.33 589.11 596.52 604.06 620.72" y="166.00" font-size="27.60">Spline</text>
<text x="570.85 588.24 604.57 618.93" y="197.00" font-size="27.60">STLS</text>
<text x="584.75 602.82 619.98" y="228.00" font-size="27.60">RPA</text>
<text x="571.17 589.24 606.40" y="259.00" font-size="27.60">RPA</text>
<text x="623.45" y="264.20" font-size="22.88">0</text>
<g class="m">
<path d="M654.8,63.1H736.2M654.8,56.9v12.4M736.2,56.9v12.4"/>
<path d="M654.8,94.1H736.2M654.8,87.89999999999999v12.4M736.2,87.89999999999999v12.4"/>
<path d="M654.8,125.1H736.2M654.8,118.89999999999999v12.4M736.2,118.89999999999999v12.4"/>
<path d="M687.20,55.10L703.80,71.70M687.20,71.70L703.80,55.10"/>
<rect x="687.20" y="85.80" width="16.60" height="16.60"/>
<circle cx="695.50" cy="125.10" r="8.2"/>
</g>
<path class="c r" d="M654.8,156.1H736.2"/>
<path class="c g" d="M654.8,187.1H736.2"/>
<path class="c o" d="M654.8,218.1H736.2"/>
<path class="c b" d="M654.8,249.1H736.2"/>
<rect x="424.25" y="286.6" width="315.65" height="252.5" fill="#fff"/>
<g class="ax" style="stroke-linecap:butt">
<path d="M424.25,539.1v-12.6M424.25,286.6v12.6"/>
<path d="M582.07,539.1v-12.6M582.07,286.6v12.6"/>
<path d="M739.90,539.1v-12.6M739.90,286.6v12.6"/>
<path d="M424.25,539.10h12.6M739.9,539.10h-12.6"/>
<path d="M424.25,412.85h12.6M739.9,412.85h-12.6"/>
<path d="M424.25,286.60h12.6M739.9,286.60h-12.6"/>
</g>
<g clip-path="url(#ci)">
<g class="m">
<path d="M456.90,516.70L469.30,516.70" stroke-width="4.4"/>
<path d="M454.80,508.40L471.40,525.00M454.80,525.00L471.40,508.40"/>
<path d="M497.60,473.70L510.00,473.70" stroke-width="4.4"/>
<path d="M495.50,465.40L512.10,482.00M495.50,482.00L512.10,465.40"/>
<path d="M536.10,436.50L548.50,436.50" stroke-width="4.4"/>
<path d="M534.00,428.20L550.60,444.80M534.00,444.80L550.60,428.20"/>
<path d="M572.80,405.10L585.20,405.10" stroke-width="4.4"/>
<path d="M570.70,396.80L587.30,413.40M570.70,413.40L587.30,396.80"/>
<path d="M608.00,371.30L620.40,371.30" stroke-width="4.4"/>
<path d="M605.90,363.00L622.50,379.60M605.90,379.60L622.50,363.00"/>
<path d="M641.40,345.70L653.80,345.70" stroke-width="4.4"/>
<path d="M639.30,337.40L655.90,354.00M639.30,354.00L655.90,337.40"/>
<path d="M673.40,321.80L685.80,321.80" stroke-width="4.4"/>
<path d="M671.30,313.50L687.90,330.10M671.30,330.10L687.90,313.50"/>
<path d="M486.50,483.90L498.90,483.90" stroke-width="4.4"/>
<rect x="484.40" y="475.60" width="16.60" height="16.60"/>
<path d="M594.60,384.70L607.00,384.70" stroke-width="4.4"/>
<rect x="592.50" y="376.40" width="16.60" height="16.60"/>
<path d="M643.00,343.80L655.40,343.80" stroke-width="4.4"/>
<rect x="640.90" y="335.50" width="16.60" height="16.60"/>
<path d="M690.20,308.10L702.60,308.10" stroke-width="4.4"/>
<rect x="688.10" y="299.80" width="16.60" height="16.60"/>
<path d="M467.30,503.80L479.70,503.80" stroke-width="4.4"/>
<circle cx="473.50" cy="503.80" r="8.2"/>
<path d="M532.70,441.10L545.10,441.10" stroke-width="4.4"/>
<circle cx="538.90" cy="441.10" r="8.2"/>
<path d="M647.70,340.70L660.10,340.70" stroke-width="4.4"/>
<circle cx="653.90" cy="340.70" r="8.2"/>
<path d="M700.50,301.30L712.90,301.30" stroke-width="4.4"/>
<circle cx="706.70" cy="301.30" r="8.2"/>
</g>
<path class="c r" d="M424.25,556.32 L425.12,555.42 L425.99,554.52 L426.86,553.62 L427.73,552.71 L428.60,551.79 L429.47,550.88 L430.34,549.96 L431.21,549.04 L432.08,548.11 L432.95,547.18 L433.82,546.25 L434.69,545.32 L435.56,544.38 L436.43,543.45 L437.30,542.51 L438.17,541.57 L439.04,540.63 L439.91,539.69 L440.78,538.75 L441.65,537.81 L442.52,536.86 L443.39,535.92 L444.26,534.98 L445.14,534.04 L446.01,533.10 L446.88,532.16 L447.75,531.23 L448.62,530.29 L449.49,529.36 L450.36,528.43 L451.23,527.50 L452.10,526.57 L452.97,525.65 L453.84,524.73 L454.71,523.81 L455.58,522.90 L456.45,521.99 L457.32,521.08 L458.19,520.17 L459.06,519.27 L459.93,518.36 L460.80,517.46 L461.67,516.55 L462.54,515.65 L463.41,514.75 L464.28,513.84 L465.15,512.94 L466.02,512.04 L466.89,511.15 L467.76,510.25 L468.63,509.35 L469.50,508.46 L470.37,507.56 L471.24,506.67 L472.11,505.77 L472.98,504.88 L473.85,503.99 L474.72,503.10 L475.59,502.21 L476.46,501.33 L477.33,500.44 L478.20,499.55 L479.07,498.67 L479.94,497.78 L480.81,496.90 L481.68,496.02 L482.55,495.14 L483.42,494.26 L484.29,493.38 L485.16,492.50 L486.04,491.63 L486.91,490.75 L487.78,489.87 L488.65,489.00 L489.52,488.13 L490.39,487.26 L491.26,486.39 L492.13,485.52 L493.00,484.65 L493.87,483.78 L494.74,482.91 L495.61,482.04 L496.48,481.18 L497.35,480.31 L498.22,479.45 L499.09,478.59 L499.96,477.73 L500.83,476.87 L501.70,476.01 L502.57,475.15 L503.44,474.29 L504.31,473.43 L505.18,472.58 L506.05,471.72 L506.92,470.87 L507.79,470.02 L508.66,469.17 L509.53,468.31 L510.40,467.46 L511.27,466.62 L512.14,465.77 L513.01,464.92 L513.88,464.08 L514.75,463.23 L515.62,462.39 L516.49,461.54 L517.36,460.70 L518.23,459.86 L519.10,459.02 L519.97,458.18 L520.84,457.35 L521.71,456.51 L522.58,455.67 L523.45,454.84 L524.32,454.00 L525.19,453.17 L526.06,452.34 L526.94,451.51 L527.81,450.68 L528.68,449.85 L529.55,449.02 L530.42,448.19 L531.29,447.37 L532.16,446.54 L533.03,445.72 L533.90,444.89 L534.77,444.07 L535.64,443.25 L536.51,442.43 L537.38,441.61 L538.25,440.79 L539.12,439.97 L539.99,439.16 L540.86,438.34 L541.73,437.53 L542.60,436.71 L543.47,435.90 L544.34,435.09 L545.21,434.28 L546.08,433.47 L546.95,432.66 L547.82,431.85 L548.69,431.04 L549.56,430.24 L550.43,429.43 L551.30,428.63 L552.17,427.83 L553.04,427.03 L553.91,426.23 L554.78,425.43 L555.65,424.63 L556.52,423.83 L557.39,423.03 L558.26,422.24 L559.13,421.44 L560.00,420.65 L560.87,419.85 L561.74,419.06 L562.61,418.27 L563.48,417.48 L564.35,416.69 L565.22,415.90 L566.09,415.11 L566.96,414.33 L567.84,413.54 L568.71,412.76 L569.58,411.97 L570.45,411.19 L571.32,410.41 L572.19,409.63 L573.06,408.85 L573.93,408.07 L574.80,407.29 L575.67,406.52 L576.54,405.74 L577.41,404.97 L578.28,404.19 L579.15,403.42 L580.02,402.65 L580.89,401.88 L581.76,401.11 L582.63,400.34 L583.50,399.57 L584.37,398.81 L585.24,398.04 L586.11,397.28 L586.98,396.51 L587.85,395.75 L588.72,394.99 L589.59,394.23 L590.46,393.47 L591.33,392.71 L592.20,391.95 L593.07,391.19 L593.94,390.44 L594.81,389.68 L595.68,388.93 L596.55,388.18 L597.42,387.42 L598.29,386.67 L599.16,385.92 L600.03,385.17 L600.90,384.42 L601.77,383.68 L602.64,382.93 L603.51,382.18 L604.38,381.44 L605.25,380.70 L606.12,379.95 L606.99,379.21 L607.86,378.47 L608.74,377.73 L609.61,376.99 L610.48,376.26 L611.35,375.52 L612.22,374.79 L613.09,374.05 L613.96,373.32 L614.83,372.59 L615.70,371.85 L616.57,371.12 L617.44,370.39 L618.31,369.67 L619.18,368.94 L620.05,368.21 L620.92,367.49 L621.79,366.76 L622.66,366.04 L623.53,365.31 L624.40,364.59 L625.27,363.87 L626.14,363.15 L627.01,362.43 L627.88,361.71 L628.75,361.00 L629.62,360.28 L630.49,359.56 L631.36,358.85 L632.23,358.14 L633.10,357.42 L633.97,356.71 L634.84,356.00 L635.71,355.29 L636.58,354.58 L637.45,353.88 L638.32,353.17 L639.19,352.47 L640.06,351.76 L640.93,351.06 L641.80,350.36 L642.67,349.65 L643.54,348.95 L644.41,348.26 L645.28,347.56 L646.15,346.86 L647.02,346.16 L647.89,345.47 L648.76,344.77 L649.64,344.08 L650.51,343.39 L651.38,342.70 L652.25,342.01 L653.12,341.32 L653.99,340.63 L654.86,339.94 L655.73,339.25 L656.60,338.57 L657.47,337.88 L658.34,337.20 L659.21,336.51 L660.08,335.83 L660.95,335.15 L661.82,334.47 L662.69,333.79 L663.56,333.11 L664.43,332.44 L665.30,331.76 L666.17,331.08 L667.04,330.41 L667.91,329.74 L668.78,329.07 L669.65,328.39 L670.52,327.72 L671.39,327.05 L672.26,326.39 L673.13,325.72 L674.00,325.05 L674.87,324.39 L675.74,323.72 L676.61,323.06 L677.48,322.40 L678.35,321.74 L679.22,321.08 L680.09,320.42 L680.96,319.76 L681.83,319.10 L682.70,318.45 L683.57,317.79 L684.44,317.14 L685.31,316.48 L686.18,315.83 L687.05,315.18 L687.92,314.53 L688.79,313.88 L689.66,313.23 L690.54,312.58 L691.41,311.93 L692.28,311.29 L693.15,310.64 L694.02,310.00 L694.89,309.35 L695.76,308.71 L696.63,308.07 L697.50,307.43 L698.37,306.79 L699.24,306.15 L700.11,305.52 L700.98,304.88 L701.85,304.25 L702.72,303.61 L703.59,302.98 L704.46,302.35 L705.33,301.72 L706.20,301.09 L707.07,300.46 L707.94,299.83 L708.81,299.20 L709.68,298.57 L710.55,297.94 L711.42,297.31 L712.29,296.68 L713.16,296.04 L714.03,295.41 L714.90,294.77 L715.77,294.14 L716.64,293.50 L717.51,292.87 L718.38,292.23 L719.25,291.60 L720.12,290.97 L720.99,290.34 L721.86,289.71 L722.73,289.08 L723.60,288.45 L724.47,287.83 L725.34,287.21 L726.21,286.59 L727.08,285.98 L727.95,285.37 L728.82,284.76 L729.69,284.15 L730.56,283.55 L731.44,282.96 L732.31,282.36 L733.18,281.78 L734.05,281.20 L734.92,280.62 L735.79,280.05 L736.66,279.48 L737.53,278.92 L738.40,278.37 L739.27,277.82 L740.14,277.28 L741.01,276.75 L741.88,276.21 L742.75,275.67 L743.62,275.13 L744.49,274.60 L745.36,274.06 L746.23,273.53 L747.10,272.99 L747.97,272.46 L748.84,271.92 L749.71,271.39 L750.58,270.86 L751.45,270.32 L752.32,269.79 L753.19,269.26 L754.06,268.73 L754.93,268.20 L755.80,267.67 L756.67,267.14 L757.54,266.61 L758.41,266.08 L759.28,265.55 L760.15,265.02 L761.02,264.50 L761.89,263.97 L762.76,263.44 L763.63,262.92 L764.50,262.39 L765.37,261.87 L766.24,261.35 L767.11,260.82 L767.98,260.30 L768.85,259.78 L769.72,259.26 L770.59,258.74 L771.46,258.22"/>
<path class="c g" style="stroke-dashoffset:1.5" d="M424.25,524.35 L425.12,523.41 L425.99,522.48 L426.86,521.55 L427.73,520.61 L428.60,519.68 L429.47,518.74 L430.34,517.81 L431.21,516.87 L432.08,515.94 L432.95,515.00 L433.82,514.07 L434.69,513.13 L435.56,512.20 L436.43,511.26 L437.30,510.33 L438.17,509.40 L439.04,508.46 L439.91,507.53 L440.78,506.60 L441.65,505.67 L442.52,504.74 L443.39,503.82 L444.26,502.89 L445.14,501.96 L446.01,501.04 L446.88,500.11 L447.75,499.19 L448.62,498.27 L449.49,497.35 L450.36,496.43 L451.23,495.52 L452.10,494.61 L452.97,493.69 L453.84,492.78 L454.71,491.87 L455.58,490.97 L456.45,490.06 L457.32,489.16 L458.19,488.26 L459.06,487.36 L459.93,486.46 L460.80,485.56 L461.67,484.66 L462.54,483.76 L463.41,482.87 L464.28,481.97 L465.15,481.08 L466.02,480.19 L466.89,479.30 L467.76,478.41 L468.63,477.52 L469.50,476.63 L470.37,475.75 L471.24,474.86 L472.11,473.98 L472.98,473.10 L473.85,472.21 L474.72,471.33 L475.59,470.45 L476.46,469.58 L477.33,468.70 L478.20,467.83 L479.07,466.95 L479.94,466.08 L480.81,465.21 L481.68,464.34 L482.55,463.47 L483.42,462.60 L484.29,461.73 L485.16,460.87 L486.04,460.01 L486.91,459.14 L487.78,458.28 L488.65,457.42 L489.52,456.56 L490.39,455.70 L491.26,454.85 L492.13,453.99 L493.00,453.14 L493.87,452.28 L494.74,451.43 L495.61,450.58 L496.48,449.73 L497.35,448.88 L498.22,448.03 L499.09,447.19 L499.96,446.34 L500.83,445.50 L501.70,444.66 L502.57,443.81 L503.44,442.97 L504.31,442.13 L505.18,441.30 L506.05,440.46 L506.92,439.62 L507.79,438.79 L508.66,437.96 L509.53,437.12 L510.40,436.29 L511.27,435.46 L512.14,434.64 L513.01,433.81 L513.88,432.98 L514.75,432.16 L515.62,431.34 L516.49,430.51 L517.36,429.69 L518.23,428.87 L519.10,428.06 L519.97,427.24 L520.84,426.42 L521.71,425.61 L522.58,424.80 L523.45,423.98 L524.32,423.17 L525.19,422.36 L526.06,421.55 L526.94,420.74 L527.81,419.94 L528.68,419.13 L529.55,418.33 L530.42,417.52 L531.29,416.72 L532.16,415.92 L533.03,415.12 L533.90,414.32 L534.77,413.53 L535.64,412.73 L536.51,411.93 L537.38,411.14 L538.25,410.35 L539.12,409.56 L539.99,408.77 L540.86,407.98 L541.73,407.19 L542.60,406.40 L543.47,405.62 L544.34,404.84 L545.21,404.05 L546.08,403.27 L546.95,402.49 L547.82,401.71 L548.69,400.94 L549.56,400.16 L550.43,399.39 L551.30,398.61 L552.17,397.84 L553.04,397.07 L553.91,396.30 L554.78,395.53 L555.65,394.76 L556.52,393.99 L557.39,393.23 L558.26,392.46 L559.13,391.70 L560.00,390.94 L560.87,390.18 L561.74,389.42 L562.61,388.66 L563.48,387.90 L564.35,387.14 L565.22,386.39 L566.09,385.63 L566.96,384.88 L567.84,384.13 L568.71,383.38 L569.58,382.63 L570.45,381.88 L571.32,381.13 L572.19,380.39 L573.06,379.64 L573.93,378.90 L574.80,378.16 L575.67,377.42 L576.54,376.68 L577.41,375.94 L578.28,375.20 L579.15,374.47 L580.02,373.73 L580.89,373.00 L581.76,372.27 L582.63,371.54 L583.50,370.81 L584.37,370.08 L585.24,369.35 L586.11,368.63 L586.98,367.90 L587.85,367.18 L588.72,366.46 L589.59,365.74 L590.46,365.02 L591.33,364.30 L592.20,363.58 L593.07,362.86 L593.94,362.15 L594.81,361.43 L595.68,360.72 L596.55,360.01 L597.42,359.30 L598.29,358.59 L599.16,357.88 L600.03,357.17 L600.90,356.46 L601.77,355.76 L602.64,355.06 L603.51,354.35 L604.38,353.65 L605.25,352.95 L606.12,352.25 L606.99,351.56 L607.86,350.86 L608.74,350.16 L609.61,349.47 L610.48,348.78 L611.35,348.09 L612.22,347.40 L613.09,346.71 L613.96,346.02 L614.83,345.34 L615.70,344.65 L616.57,343.97 L617.44,343.28 L618.31,342.60 L619.18,341.92 L620.05,341.24 L620.92,340.57 L621.79,339.89 L622.66,339.21 L623.53,338.54 L624.40,337.86 L625.27,337.19 L626.14,336.52 L627.01,335.85 L627.88,335.18 L628.75,334.51 L629.62,333.85 L630.49,333.18 L631.36,332.52 L632.23,331.85 L633.10,331.19 L633.97,330.53 L634.84,329.87 L635.71,329.21 L636.58,328.56 L637.45,327.90 L638.32,327.25 L639.19,326.60 L640.06,325.94 L640.93,325.29 L641.80,324.64 L642.67,324.00 L643.54,323.35 L644.41,322.70 L645.28,322.06 L646.15,321.42 L647.02,320.78 L647.89,320.14 L648.76,319.50 L649.64,318.86 L650.51,318.22 L651.38,317.58 L652.25,316.95 L653.12,316.32 L653.99,315.68 L654.86,315.05 L655.73,314.42 L656.60,313.79 L657.47,313.16 L658.34,312.54 L659.21,311.91 L660.08,311.29 L660.95,310.66 L661.82,310.04 L662.69,309.42 L663.56,308.80 L664.43,308.18 L665.30,307.56 L666.17,306.95 L667.04,306.33 L667.91,305.72 L668.78,305.11 L669.65,304.50 L670.52,303.89 L671.39,303.28 L672.26,302.67 L673.13,302.06 L674.00,301.46 L674.87,300.86 L675.74,300.25 L676.61,299.65 L677.48,299.05 L678.35,298.46 L679.22,297.86 L680.09,297.26 L680.96,296.67 L681.83,296.07 L682.70,295.48 L683.57,294.89 L684.44,294.30 L685.31,293.71 L686.18,293.12 L687.05,292.53 L687.92,291.95 L688.79,291.36 L689.66,290.78 L690.54,290.20 L691.41,289.61 L692.28,289.03 L693.15,288.45 L694.02,287.88 L694.89,287.30 L695.76,286.73 L696.63,286.15 L697.50,285.58 L698.37,285.01 L699.24,284.44 L700.11,283.87 L700.98,283.30 L701.85,282.73 L702.72,282.17 L703.59,281.60 L704.46,281.04 L705.33,280.48 L706.20,279.92 L707.07,279.36 L707.94,278.80 L708.81,278.25 L709.68,277.69 L710.55,277.13 L711.42,276.57 L712.29,276.00 L713.16,275.44 L714.03,274.87 L714.90,274.31 L715.77,273.74 L716.64,273.18 L717.51,272.61 L718.38,272.05 L719.25,271.48 L720.12,270.92 L720.99,270.36 L721.86,269.80 L722.73,269.25 L723.60,268.69 L724.47,268.14 L725.34,267.59 L726.21,267.05 L727.08,266.51 L727.95,265.97 L728.82,265.44 L729.69,264.91 L730.56,264.38 L731.44,263.86 L732.31,263.35 L733.18,262.84 L734.05,262.34 L734.92,261.84 L735.79,261.35 L736.66,260.87 L737.53,260.39 L738.40,259.92 L739.27,259.46 L740.14,259.01 L741.01,258.56 L741.88,258.11 L742.75,257.66 L743.62,257.21 L744.49,256.76 L745.36,256.31 L746.23,255.87 L747.10,255.42 L747.97,254.97 L748.84,254.53 L749.71,254.08 L750.58,253.64 L751.45,253.20 L752.32,252.75 L753.19,252.31 L754.06,251.87 L754.93,251.43 L755.80,250.99 L756.67,250.55 L757.54,250.11 L758.41,249.68 L759.28,249.24 L760.15,248.80 L761.02,248.37 L761.89,247.93 L762.76,247.50 L763.63,247.07 L764.50,246.63 L765.37,246.20 L766.24,245.77 L767.11,245.34 L767.98,244.91 L768.85,244.48 L769.72,244.06 L770.59,243.63 L771.46,243.20"/>
<path class="c o" d="M555.24,539.10 L555.79,538.75 L556.33,538.39 L556.87,538.04 L557.41,537.68 L557.95,537.33 L558.50,536.97 L559.04,536.62 L559.58,536.27 L560.12,535.91 L560.66,535.56 L561.21,535.21 L561.75,534.86 L562.29,534.50 L562.83,534.15 L563.37,533.80 L563.92,533.45 L564.46,533.10 L565.00,532.74 L565.54,532.39 L566.08,532.04 L566.62,531.69 L567.17,531.34 L567.71,530.99 L568.25,530.64 L568.79,530.29 L569.33,529.94 L569.88,529.59 L570.42,529.24 L570.96,528.89 L571.50,528.54 L572.04,528.19 L572.59,527.84 L573.13,527.49 L573.67,527.15 L574.21,526.80 L574.75,526.45 L575.30,526.10 L575.84,525.75 L576.38,525.41 L576.92,525.06 L577.46,524.71 L578.00,524.36 L578.55,524.02 L579.09,523.67 L579.63,523.32 L580.17,522.98 L580.71,522.63 L581.26,522.29 L581.80,521.94 L582.34,521.60 L582.88,521.25 L583.42,520.91 L583.97,520.56 L584.51,520.22 L585.05,519.87 L585.59,519.53 L586.13,519.18 L586.68,518.84 L587.22,518.50 L587.76,518.15 L588.30,517.81 L588.84,517.47 L589.38,517.12 L589.93,516.78 L590.47,516.44 L591.01,516.09 L591.55,515.75 L592.09,515.41 L592.64,515.07 L593.18,514.73 L593.72,514.39 L594.26,514.04 L594.80,513.70 L595.35,513.36 L595.89,513.02 L596.43,512.68 L596.97,512.34 L597.51,512.00 L598.06,511.66 L598.60,511.32 L599.14,510.98 L599.68,510.64 L600.22,510.30 L600.76,509.96 L601.31,509.63 L601.85,509.29 L602.39,508.95 L602.93,508.61 L603.47,508.27 L604.02,507.93 L604.56,507.60 L605.10,507.26 L605.64,506.92 L606.18,506.59 L606.73,506.25 L607.27,505.91 L607.81,505.58 L608.35,505.24 L608.89,504.90 L609.44,504.57 L609.98,504.23 L610.52,503.90 L611.06,503.56 L611.60,503.23 L612.14,502.89 L612.69,502.56 L613.23,502.22 L613.77,501.89 L614.31,501.55 L614.85,501.22 L615.40,500.89 L615.94,500.55 L616.48,500.22 L617.02,499.89 L617.56,499.55 L618.11,499.22 L618.65,498.89 L619.19,498.56 L619.73,498.22 L620.27,497.89 L620.82,497.56 L621.36,497.23 L621.90,496.90 L622.44,496.57 L622.98,496.24 L623.52,495.90 L624.07,495.57 L624.61,495.24 L625.15,494.91 L625.69,494.58 L626.23,494.25 L626.78,493.92 L627.32,493.59 L627.86,493.27 L628.40,492.94 L628.94,492.61 L629.49,492.28 L630.03,491.95 L630.57,491.62 L631.11,491.29 L631.65,490.97 L632.20,490.64 L632.74,490.31 L633.28,489.98 L633.82,489.66 L634.36,489.33 L634.90,489.00 L635.45,488.68 L635.99,488.35 L636.53,488.03 L637.07,487.70 L637.61,487.37 L638.16,487.05 L638.70,486.72 L639.24,486.40 L639.78,486.07 L640.32,485.75 L640.87,485.42 L641.41,485.10 L641.95,484.78 L642.49,484.45 L643.03,484.13 L643.58,483.80 L644.12,483.48 L644.66,483.16 L645.20,482.84 L645.74,482.51 L646.28,482.19 L646.83,481.87 L647.37,481.55 L647.91,481.22 L648.45,480.90 L648.99,480.58 L649.54,480.26 L650.08,479.93 L650.62,479.61 L651.16,479.29 L651.70,478.97 L652.25,478.65 L652.79,478.32 L653.33,478.00 L653.87,477.68 L654.41,477.36 L654.96,477.04 L655.50,476.71 L656.04,476.39 L656.58,476.07 L657.12,475.75 L657.66,475.43 L658.21,475.11 L658.75,474.78 L659.29,474.46 L659.83,474.14 L660.37,473.82 L660.92,473.50 L661.46,473.18 L662.00,472.86 L662.54,472.54 L663.08,472.22 L663.63,471.89 L664.17,471.57 L664.71,471.25 L665.25,470.93 L665.79,470.61 L666.34,470.29 L666.88,469.97 L667.42,469.65 L667.96,469.33 L668.50,469.01 L669.04,468.69 L669.59,468.37 L670.13,468.05 L670.67,467.74 L671.21,467.42 L671.75,467.10 L672.30,466.78 L672.84,466.46 L673.38,466.14 L673.92,465.82 L674.46,465.50 L675.01,465.19 L675.55,464.87 L676.09,464.55 L676.63,464.23 L677.17,463.92 L677.72,463.60 L678.26,463.28 L678.80,462.97 L679.34,462.65 L679.88,462.33 L680.42,462.02 L680.97,461.70 L681.51,461.38 L682.05,461.07 L682.59,460.75 L683.13,460.44 L683.68,460.12 L684.22,459.81 L684.76,459.49 L685.30,459.18 L685.84,458.86 L686.39,458.55 L686.93,458.24 L687.47,457.92 L688.01,457.61 L688.55,457.30 L689.10,456.98 L689.64,456.67 L690.18,456.36 L690.72,456.05 L691.26,455.73 L691.80,455.42 L692.35,455.11 L692.89,454.80 L693.43,454.49 L693.97,454.18 L694.51,453.87 L695.06,453.56 L695.60,453.25 L696.14,452.94 L696.68,452.63 L697.22,452.32 L697.77,452.01 L698.31,451.70 L698.85,451.39 L699.39,451.09 L699.93,450.78 L700.48,450.47 L701.02,450.16 L701.56,449.86 L702.10,449.55 L702.64,449.24 L703.18,448.94 L703.73,448.63 L704.27,448.33 L704.81,448.02 L705.35,447.72 L705.89,447.41 L706.44,447.11 L706.98,446.81 L707.52,446.50 L708.06,446.20 L708.60,445.90 L709.15,445.60 L709.69,445.29 L710.23,444.99 L710.77,444.69 L711.31,444.39 L711.86,444.09 L712.40,443.79 L712.94,443.49 L713.48,443.19 L714.02,442.89 L714.56,442.59 L715.11,442.29 L715.65,442.00 L716.19,441.70 L716.73,441.40 L717.27,441.10 L717.82,440.81 L718.36,440.51 L718.90,440.22 L719.44,439.92 L719.98,439.63 L720.53,439.33 L721.07,439.04 L721.61,438.74 L722.15,438.45 L722.69,438.16 L723.24,437.87 L723.78,437.57 L724.32,437.28 L724.86,436.99 L725.40,436.70 L725.94,436.41 L726.49,436.12 L727.03,435.83 L727.57,435.54 L728.11,435.25 L728.65,434.97 L729.20,434.68 L729.74,434.39 L730.28,434.10 L730.82,433.82 L731.36,433.53 L731.91,433.25 L732.45,432.96 L732.99,432.68 L733.53,432.39 L734.07,432.11 L734.62,431.83 L735.16,431.55 L735.70,431.26 L736.24,430.98 L736.78,430.70 L737.32,430.42 L737.87,430.14 L738.41,429.86 L738.95,429.58 L739.49,429.30 L740.03,429.03 L740.58,428.75 L741.12,428.47 L741.66,428.19 L742.20,427.91 L742.74,427.64 L743.29,427.36 L743.83,427.08 L744.37,426.80 L744.91,426.53 L745.45,426.25 L746.00,425.97 L746.54,425.70 L747.08,425.42 L747.62,425.14 L748.16,424.87 L748.70,424.59 L749.25,424.31 L749.79,424.04 L750.33,423.76 L750.87,423.48 L751.41,423.21 L751.96,422.93 L752.50,422.65 L753.04,422.38 L753.58,422.10 L754.12,421.83 L754.67,421.55 L755.21,421.27 L755.75,421.00 L756.29,420.72 L756.83,420.45 L757.38,420.17 L757.92,419.90 L758.46,419.62 L759.00,419.35 L759.54,419.07 L760.08,418.80 L760.63,418.52 L761.17,418.25 L761.71,417.97 L762.25,417.70 L762.79,417.42 L763.34,417.15 L763.88,416.87 L764.42,416.60 L764.96,416.33 L765.50,416.05 L766.05,415.78 L766.59,415.50 L767.13,415.23 L767.67,414.96 L768.21,414.68 L768.76,414.41 L769.30,414.14 L769.84,413.86 L770.38,413.59 L770.92,413.32 L771.46,413.04"/>
<path class="c b" style="stroke-dashoffset:0.5" d="M424.25,472.78 L424.72,472.04 L425.20,471.31 L425.67,470.58 L426.15,469.84 L426.62,469.11 L427.10,468.37 L427.57,467.64 L428.05,466.90 L428.52,466.16 L429.00,465.42 L429.47,464.69 L429.95,463.95 L430.42,463.21 L430.90,462.47 L431.37,461.73 L431.84,460.99 L432.32,460.24 L432.79,459.50 L433.27,458.76 L433.74,458.02 L434.22,457.27 L434.69,456.53 L435.17,455.78 L435.64,455.04 L436.12,454.29 L436.59,453.54 L437.07,452.80 L437.54,452.05 L438.02,451.30 L438.49,450.55 L438.96,449.80 L439.44,449.05 L439.91,448.30 L440.39,447.55 L440.86,446.80 L441.34,446.05 L441.81,445.29 L442.29,444.54 L442.76,443.79 L443.24,443.03 L443.71,442.28 L444.19,441.52 L444.66,440.77 L445.14,440.01 L445.61,439.25 L446.08,438.50 L446.56,437.74 L447.03,436.98 L447.51,436.22 L447.98,435.46 L448.46,434.70 L448.93,433.94 L449.41,433.18 L449.88,432.42 L450.36,431.65 L450.83,430.89 L451.31,430.13 L451.78,429.36 L452.26,428.60 L452.73,427.83 L453.20,427.07 L453.68,426.30 L454.15,425.53 L454.63,424.76 L455.10,424.00 L455.58,423.23 L456.05,422.46 L456.53,421.69 L457.00,420.92 L457.48,420.15 L457.95,419.38 L458.43,418.60 L458.90,417.83 L459.37,417.06 L459.85,416.29 L460.32,415.51 L460.80,414.74 L461.27,413.96 L461.75,413.19 L462.22,412.41 L462.70,411.63 L463.17,410.85 L463.65,410.08 L464.12,409.30 L464.60,408.52 L465.07,407.74 L465.55,406.96 L466.02,406.18 L466.49,405.40 L466.97,404.61 L467.44,403.83 L467.92,403.05 L468.39,402.27 L468.87,401.48 L469.34,400.70 L469.82,399.91 L470.29,399.13 L470.77,398.34 L471.24,397.55 L471.72,396.77 L472.19,395.98 L472.67,395.19 L473.14,394.40 L473.61,393.61 L474.09,392.82 L474.56,392.03 L475.04,391.24 L475.51,390.45 L475.99,389.65 L476.46,388.86 L476.94,388.07 L477.41,387.27 L477.89,386.48 L478.36,385.68 L478.84,384.89 L479.31,384.09 L479.79,383.30 L480.26,382.50 L480.73,381.70 L481.21,380.90 L481.68,380.10 L482.16,379.30 L482.63,378.50 L483.11,377.70 L483.58,376.90 L484.06,376.10 L484.53,375.30 L485.01,374.50 L485.48,373.69 L485.96,372.89 L486.43,372.08 L486.91,371.28 L487.38,370.47 L487.85,369.67 L488.33,368.86 L488.80,368.05 L489.28,367.25 L489.75,366.44 L490.23,365.63 L490.70,364.82 L491.18,364.01 L491.65,363.20 L492.13,362.39 L492.60,361.58 L493.08,360.76 L493.55,359.95 L494.03,359.14 L494.50,358.32 L494.97,357.51 L495.45,356.70 L495.92,355.88 L496.40,355.06 L496.87,354.25 L497.35,353.43 L497.82,352.61 L498.30,351.79 L498.77,350.98 L499.25,350.16 L499.72,349.34 L500.20,348.52 L500.67,347.69 L501.15,346.87 L501.62,346.05 L502.09,345.23 L502.57,344.41 L503.04,343.58 L503.52,342.76 L503.99,341.93 L504.47,341.11 L504.94,340.28 L505.42,339.45 L505.89,338.63 L506.37,337.80 L506.84,336.97 L507.32,336.14 L507.79,335.31 L508.27,334.48 L508.74,333.65 L509.21,332.82 L509.69,331.99 L510.16,331.16 L510.64,330.33 L511.11,329.49 L511.59,328.66 L512.06,327.83 L512.54,326.99 L513.01,326.16 L513.49,325.32 L513.96,324.48 L514.44,323.65 L514.91,322.81 L515.39,321.97 L515.86,321.13 L516.33,320.29 L516.81,319.45 L517.28,318.61 L517.76,317.77 L518.23,316.93 L518.71,316.09 L519.18,315.25 L519.66,314.40 L520.13,313.56 L520.61,312.72 L521.08,311.87 L521.56,311.03 L522.03,310.18 L522.50,309.33 L522.98,308.49 L523.45,307.64 L523.93,306.79 L524.40,305.94 L524.88,305.09 L525.35,304.25 L525.83,303.40 L526.30,302.54 L526.78,301.69 L527.25,300.84 L527.73,299.99 L528.20,299.14 L528.68,298.28 L529.15,297.43 L529.62,296.57 L530.10,295.72 L530.57,294.86 L531.05,294.01 L531.52,293.15 L532.00,292.29 L532.47,291.44 L532.95,290.58 L533.42,289.72 L533.90,288.86 L534.37,288.00 L534.85,287.14 L535.32,286.28 L535.80,285.41 L536.27,284.55 L536.74,283.69 L537.22,282.83 L537.69,281.96 L538.17,281.10 L538.64,280.23 L539.12,279.37 L539.59,278.50 L540.07,277.63 L540.54,276.77 L541.02,275.90 L541.49,275.03 L541.97,274.16 L542.44,273.29 L542.92,272.42 L543.39,271.55 L543.86,270.68 L544.34,269.81 L544.81,268.94 L545.29,268.06 L545.76,267.19 L546.24,266.32 L546.71,265.44 L547.19,264.57 L547.66,263.69 L548.14,262.82 L548.61,261.94 L549.09,261.06 L549.56,260.18 L550.04,259.31 L550.51,258.43 L550.98,257.55 L551.46,256.67 L551.93,255.79 L552.41,254.91 L552.88,254.03 L553.36,253.14 L553.83,252.26 L554.31,251.38 L554.78,250.49 L555.26,249.61 L555.73,248.72 L556.21,247.84 L556.68,246.95 L557.16,246.07 L557.63,245.18 L558.10,244.29 L558.58,243.40 L559.05,242.52 L559.53,241.63 L560.00,240.74 L560.48,239.85 L560.95,238.95 L561.43,238.06 L561.90,237.17 L562.38,236.28 L562.85,235.39 L563.33,234.49 L563.80,233.60 L564.28,232.70 L564.75,231.81 L565.22,230.91 L565.70,230.02 L566.17,229.12 L566.65,228.22 L567.12,227.32 L567.60,226.42 L568.07,225.52 L568.55,224.63 L569.02,223.72 L569.50,222.82 L569.97,221.92 L570.45,221.02 L570.92,220.12 L571.40,219.22 L571.87,218.31 L572.34,217.41 L572.82,216.50 L573.29,215.60 L573.77,214.69 L574.24,213.79 L574.72,212.88 L575.19,211.97 L575.67,211.06 L576.14,210.15 L576.62,209.25 L577.09,208.34 L577.57,207.43 L578.04,206.51 L578.52,205.60 L578.99,204.69 L579.46,203.78 L579.94,202.87 L580.41,201.95 L580.89,201.04 L581.36,200.12 L581.84,199.21 L582.31,198.29 L582.79,197.38 L583.26,196.46 L583.74,195.54 L584.21,194.62 L584.69,193.71 L585.16,192.79 L585.63,191.87 L586.11,190.95 L586.58,190.03 L587.06,189.11 L587.53,188.18 L588.01,187.26 L588.48,186.34 L588.96,185.42 L589.43,184.49 L589.91,183.57 L590.38,182.64 L590.86,181.72 L591.33,180.79 L591.81,179.86 L592.28,178.94 L592.75,178.01 L593.23,177.08 L593.70,176.15 L594.18,175.22 L594.65,174.29 L595.13,173.36 L595.60,172.43 L596.08,171.50 L596.55,170.57 L597.03,169.63 L597.50,168.70 L597.98,167.77 L598.45,166.83 L598.93,165.90 L599.40,164.96 L599.87,164.02 L600.35,163.09 L600.82,162.15 L601.30,161.21 L601.77,160.27 L602.25,159.34 L602.72,158.40 L603.20,157.46 L603.67,156.52 L604.15,155.58 L604.62,154.63 L605.10,153.69 L605.57,152.75 L606.05,151.81 L606.52,150.86 L606.99,149.92 L607.47,148.97 L607.94,148.03 L608.42,147.08 L608.89,146.13 L609.37,145.19 L609.84,144.24 L610.32,143.29 L610.79,142.34 L611.27,141.39 L611.74,140.44 L612.22,139.49 L612.69,138.54 L613.17,137.59 L613.64,136.64"/>
</g>
<rect class="ax" x="424.25" y="286.6" width="315.65" height="252.5"/>
<text x="407.37 424.08 432.82" y="580.10" font-size="28.60">0.2</text>
<text x="556.71 573.42 582.16 599.13" y="580.10" font-size="28.60">0.25</text>
<text x="723.02 739.73 748.47" y="580.10" font-size="28.60">0.3</text>
<text x="364.22 380.92 389.66" y="549.00" font-size="28.60">0.5</text>
<text x="347.25 363.95 372.69 389.66" y="422.75" font-size="28.60">0.65</text>
<text x="364.22 380.92 389.66" y="296.50" font-size="28.60">0.8</text>
</svg></body></html>
